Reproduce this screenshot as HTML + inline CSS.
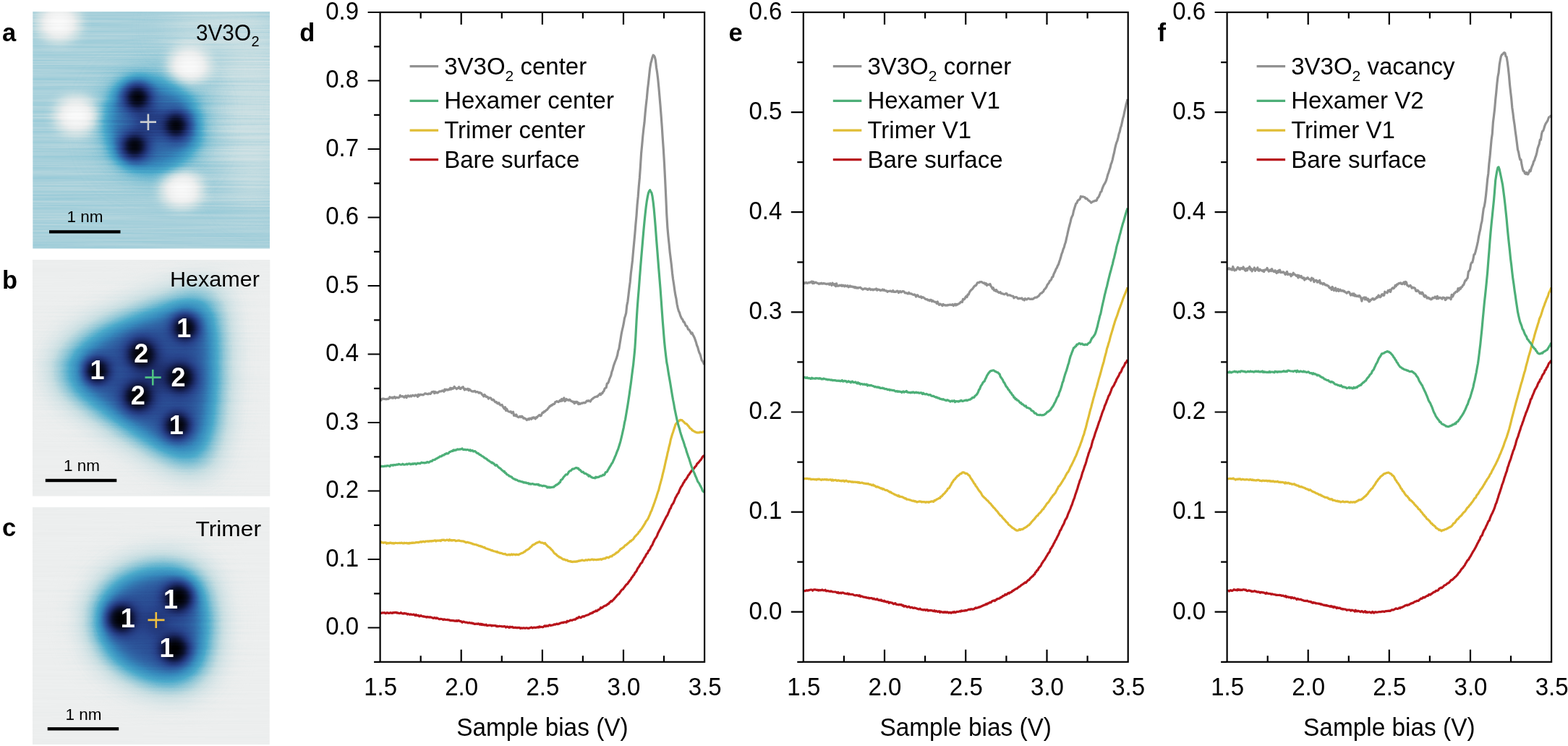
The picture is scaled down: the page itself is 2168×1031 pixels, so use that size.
<!DOCTYPE html><html><head><meta charset="utf-8"><style>html,body{margin:0;padding:0;background:#fff;}svg{display:block;}.tk{font-family:'Liberation Sans', Arial, sans-serif;font-size:33px;fill:#000;}.pl{font-family:'Liberation Sans', Arial, sans-serif;font-size:34.5px;font-weight:bold;fill:#000;}.it{font-family:'Liberation Sans', Arial, sans-serif;fill:#000;}.num{font-family:'Liberation Sans', Arial, sans-serif;font-weight:bold;fill:#fff;font-size:36px;}</style></head><body>
<svg width="2168" height="1031" viewBox="0 0 2168 1031">
<defs>
<clipPath id="clipa"><rect x="45.3" y="16.0" width="327.7" height="327.4"/></clipPath>
<filter id="cma" filterUnits="userSpaceOnUse" x="45.3" y="16.0" width="327.7" height="327.4" color-interpolation-filters="sRGB"><feTurbulence type="fractalNoise" baseFrequency="0.005 0.45" numOctaves="2" seed="3" result="n"/><feColorMatrix in="n" type="matrix" values="1 0 0 0 0 1 0 0 0 0 1 0 0 0 0 0 0 0 0 1" result="ng"/><feComposite in="SourceGraphic" in2="ng" operator="arithmetic" k1="0" k2="1" k3="0.090" k4="-0.045" result="s"/><feComponentTransfer in="s"><feFuncR type="table" tableValues="0.0000 0.0471 0.1098 0.1569 0.1882 0.2157 0.2941 0.5569 0.7843 0.9255 0.9804"/><feFuncG type="table" tableValues="0.0000 0.0706 0.1647 0.2667 0.3922 0.5490 0.6667 0.7765 0.8706 0.9333 0.9804"/><feFuncB type="table" tableValues="0.0000 0.1882 0.4000 0.5490 0.6471 0.7451 0.7961 0.8392 0.8863 0.9333 0.9804"/><feFuncA type="identity"/></feComponentTransfer></filter>
<clipPath id="clipb"><rect x="45.0" y="359.0" width="328.3" height="326.7"/></clipPath>
<filter id="cmb" filterUnits="userSpaceOnUse" x="45.0" y="359.0" width="328.3" height="326.7" color-interpolation-filters="sRGB"><feTurbulence type="fractalNoise" baseFrequency="0.005 0.45" numOctaves="2" seed="5" result="n"/><feColorMatrix in="n" type="matrix" values="1 0 0 0 0 1 0 0 0 0 1 0 0 0 0 0 0 0 0 1" result="ng"/><feComposite in="SourceGraphic" in2="ng" operator="arithmetic" k1="0" k2="1" k3="0.035" k4="-0.018" result="s"/><feComponentTransfer in="s"><feFuncR type="table" tableValues="0.0000 0.0471 0.1098 0.1569 0.1882 0.2157 0.2941 0.5569 0.7843 0.9255 0.9804"/><feFuncG type="table" tableValues="0.0000 0.0706 0.1647 0.2667 0.3922 0.5490 0.6667 0.7765 0.8706 0.9333 0.9804"/><feFuncB type="table" tableValues="0.0000 0.1882 0.4000 0.5490 0.6471 0.7451 0.7961 0.8392 0.8863 0.9333 0.9804"/><feFuncA type="identity"/></feComponentTransfer></filter>
<clipPath id="clipc"><rect x="45.0" y="701.0" width="327.8" height="328.0"/></clipPath>
<filter id="cmc" filterUnits="userSpaceOnUse" x="45.0" y="701.0" width="327.8" height="328.0" color-interpolation-filters="sRGB"><feTurbulence type="fractalNoise" baseFrequency="0.005 0.45" numOctaves="2" seed="9" result="n"/><feColorMatrix in="n" type="matrix" values="1 0 0 0 0 1 0 0 0 0 1 0 0 0 0 0 0 0 0 1" result="ng"/><feComposite in="SourceGraphic" in2="ng" operator="arithmetic" k1="0" k2="1" k3="0.035" k4="-0.018" result="s"/><feComponentTransfer in="s"><feFuncR type="table" tableValues="0.0000 0.0471 0.1098 0.1569 0.1882 0.2157 0.2941 0.5569 0.7843 0.9255 0.9804"/><feFuncG type="table" tableValues="0.0000 0.0706 0.1647 0.2667 0.3922 0.5490 0.6667 0.7765 0.8706 0.9333 0.9804"/><feFuncB type="table" tableValues="0.0000 0.1882 0.4000 0.5490 0.6471 0.7451 0.7961 0.8392 0.8863 0.9333 0.9804"/><feFuncA type="identity"/></feComponentTransfer></filter>
<filter id="bl3" filterUnits="userSpaceOnUse" x="0" y="0" width="400" height="1031" color-interpolation-filters="sRGB"><feGaussianBlur stdDeviation="3"/></filter>
<filter id="bl5" filterUnits="userSpaceOnUse" x="0" y="0" width="400" height="1031" color-interpolation-filters="sRGB"><feGaussianBlur stdDeviation="5"/></filter>
<filter id="bl6" filterUnits="userSpaceOnUse" x="0" y="0" width="400" height="1031" color-interpolation-filters="sRGB"><feGaussianBlur stdDeviation="6"/></filter>
<filter id="bl7" filterUnits="userSpaceOnUse" x="0" y="0" width="400" height="1031" color-interpolation-filters="sRGB"><feGaussianBlur stdDeviation="7"/></filter>
<filter id="bl8" filterUnits="userSpaceOnUse" x="0" y="0" width="400" height="1031" color-interpolation-filters="sRGB"><feGaussianBlur stdDeviation="8"/></filter>
<filter id="bl9" filterUnits="userSpaceOnUse" x="0" y="0" width="400" height="1031" color-interpolation-filters="sRGB"><feGaussianBlur stdDeviation="9"/></filter>
<filter id="bl10" filterUnits="userSpaceOnUse" x="0" y="0" width="400" height="1031" color-interpolation-filters="sRGB"><feGaussianBlur stdDeviation="10"/></filter>
<filter id="bl11" filterUnits="userSpaceOnUse" x="0" y="0" width="400" height="1031" color-interpolation-filters="sRGB"><feGaussianBlur stdDeviation="11"/></filter>
<filter id="bl12" filterUnits="userSpaceOnUse" x="0" y="0" width="400" height="1031" color-interpolation-filters="sRGB"><feGaussianBlur stdDeviation="12"/></filter>
<filter id="bl14" filterUnits="userSpaceOnUse" x="0" y="0" width="400" height="1031" color-interpolation-filters="sRGB"><feGaussianBlur stdDeviation="14"/></filter>
<filter id="bl16" filterUnits="userSpaceOnUse" x="0" y="0" width="400" height="1031" color-interpolation-filters="sRGB"><feGaussianBlur stdDeviation="16"/></filter>
<filter id="bl18" filterUnits="userSpaceOnUse" x="0" y="0" width="400" height="1031" color-interpolation-filters="sRGB"><feGaussianBlur stdDeviation="18"/></filter>
<filter id="bl22" filterUnits="userSpaceOnUse" x="0" y="0" width="400" height="1031" color-interpolation-filters="sRGB"><feGaussianBlur stdDeviation="22"/></filter>
</defs>
<g clip-path="url(#clipa)"><g filter="url(#cma)">
<rect x="25.3" y="-4.0" width="367.7" height="367.4" fill="rgb(190,190,190)"/>
<g filter="url(#bl22)" fill="rgb(204,204,204)"><ellipse cx="350" cy="150" rx="45" ry="140"/><ellipse cx="300" cy="40" rx="70" ry="30"/></g>
<g filter="url(#bl22)" fill="rgb(158,158,158)"><circle cx="212" cy="172" r="70"/></g>
<g filter="url(#bl10)" fill="rgb(255,255,255)">
<ellipse cx="81.5" cy="32.0" rx="26" ry="22"/>
<ellipse cx="261.5" cy="90.0" rx="26" ry="22"/>
<ellipse cx="105.3" cy="159.6" rx="26" ry="22"/>
<ellipse cx="251.3" cy="261.5" rx="26" ry="22"/>
</g>
<g filter="url(#bl12)" fill="rgb(107,107,107)">
<path d="M163.8,121.6 Q201.0,101.2 247.5,128.2 Q284.7,160.7 266.1,205.3 Q233.5,242.5 187.0,230.4 Q145.2,214.6 149.8,165.3 Q152.6,137.4 163.8,121.6 Z"/>
</g>
<g filter="url(#bl9)" fill="rgb(69,69,69)">
<circle cx="190.2" cy="135.3" r="23"/>
<circle cx="243.2" cy="173.3" r="23"/>
<circle cx="186.2" cy="201.8" r="23"/>
<circle cx="207.0" cy="170.0" r="23"/>
</g>
<g filter="url(#bl7)" fill="rgb(0,0,0)">
<circle cx="190.2" cy="135.3" r="14"/>
<circle cx="243.2" cy="173.3" r="14"/>
<circle cx="186.2" cy="201.8" r="14"/>
</g>
</g>
<path d="M193.8,168.6H216M204.9,157.6V180" stroke="#c9ccd0" stroke-width="2.6"/>
</g>
<text x="271" y="56" class="it" font-size="31px" textLength="76" lengthAdjust="spacingAndGlyphs">3V3O</text>
<text x="347.5" y="64.4" class="it" font-size="20px">2</text>
<text x="92.5" y="307.1" class="it" font-size="22.5px">1 nm</text>
<rect x="68" y="318.2" width="98.5" height="4.3" fill="#000"/>
<g clip-path="url(#clipb)"><g filter="url(#cmb)">
<rect x="25.0" y="339.0" width="368.3" height="366.7" fill="rgb(231,231,231)"/>
<g filter="url(#bl22)" fill="rgb(201,201,201)"><path d="M63.8,506.6 Q72.8,468.5 142.2,434.9 Q198.2,410.2 265.4,390.1 Q310.2,378.9 316.9,430.4 Q322.5,475.2 316.9,564.8 Q310.2,637.6 287.8,657.8 Q259.8,671.2 198.2,628.6 Q131.0,587.2 81.7,546.9 Q61.6,526.7 63.8,506.6 Z"/></g>
<g filter="url(#bl16)" fill="rgb(158,158,158)"><path d="M81.3,508.1 Q89.3,474.5 150.7,444.8 Q200.2,423.0 259.6,405.2 Q299.1,395.3 305.1,440.8 Q310.0,480.4 305.1,559.6 Q299.1,624.0 279.4,641.8 Q254.6,653.6 200.2,616.0 Q140.8,579.4 97.2,543.8 Q79.4,525.9 81.3,508.1 Z"/></g>
<g filter="url(#bl12)" fill="rgb(120,120,120)"><path d="M98.9,509.7 Q105.8,480.4 159.1,454.6 Q202.1,435.7 253.7,420.2 Q288.1,411.6 293.3,451.2 Q297.6,485.6 293.3,554.4 Q288.1,610.3 270.9,625.8 Q249.4,636.1 202.1,603.4 Q150.5,571.6 112.7,540.6 Q97.2,525.2 98.9,509.7 Z"/></g>
<g filter="url(#bl11)" fill="rgb(87,87,87)"><path d="M120.5,511.6 Q126.1,487.8 169.5,466.8 Q204.5,451.4 246.5,438.8 Q274.5,431.8 278.7,464.0 Q282.2,492.0 278.7,548.0 Q274.5,593.5 260.5,606.1 Q243.0,614.5 204.5,587.9 Q162.5,562.0 131.7,536.8 Q119.1,524.2 120.5,511.6 Z"/></g>
<g filter="url(#bl10)" fill="rgb(56,56,56)">
<circle cx="136.0" cy="511.0" r="16"/>
<circle cx="256.0" cy="453.0" r="18"/>
<circle cx="245.0" cy="588.0" r="18"/>
<circle cx="197.0" cy="489.0" r="24"/>
<circle cx="248.0" cy="522.0" r="24"/>
<circle cx="192.0" cy="547.0" r="24"/>
<circle cx="220.0" cy="518.0" r="20"/>
</g>
<g filter="url(#bl7)" fill="rgb(0,0,0)">
<circle cx="134.0" cy="513.0" r="15"/>
<circle cx="256.0" cy="453.0" r="15"/>
<circle cx="245.0" cy="588.0" r="15"/>
<circle cx="196.0" cy="490.0" r="17"/>
<circle cx="249.0" cy="522.0" r="17"/>
<circle cx="191.0" cy="548.0" r="17"/>
</g>
</g>
<path d="M200.5,521.6H222.7M211.3,510.8V532.4" stroke="#4fc283" stroke-width="2.6"/>
</g>
<text x="235" y="396.2" class="it" font-size="30px" textLength="124" lengthAdjust="spacingAndGlyphs">Hexamer</text>
<text x="134.4" y="523.6" class="num" text-anchor="middle">1</text>
<text x="254.2" y="466.1" class="num" text-anchor="middle">1</text>
<text x="243.7" y="599.7" class="num" text-anchor="middle">1</text>
<text x="195.2" y="500.9" class="num" text-anchor="middle">2</text>
<text x="246.6" y="533.7" class="num" text-anchor="middle">2</text>
<text x="190.8" y="559.4" class="num" text-anchor="middle">2</text>
<text x="88" y="651.3" class="it" font-size="22.5px">1 nm</text>
<rect x="62.8" y="661.8" width="98.5" height="4.4" fill="#000"/>
<g clip-path="url(#clipc)"><g filter="url(#cmc)">
<rect x="25.0" y="681.0" width="367.8" height="368.0" fill="rgb(231,231,231)"/>
<g filter="url(#bl22)" fill="rgb(201,201,201)"><path d="M114.0,859.7 Q116.2,789.0 198.3,768.5 Q280.4,751.4 300.9,814.1 Q314.6,871.1 297.5,924.7 Q273.6,976.0 209.7,958.9 Q121.9,930.4 114.0,859.7 Z"/></g>
<g filter="url(#bl16)" fill="rgb(158,158,158)"><path d="M126.0,860.0 Q128.0,798.0 200.0,780.0 Q272.0,765.0 290.0,820.0 Q302.0,870.0 287.0,917.0 Q266.0,962.0 210.0,947.0 Q133.0,922.0 126.0,860.0 Z"/></g>
<g filter="url(#bl12)" fill="rgb(120,120,120)"><path d="M138.0,860.3 Q139.8,807.0 201.7,791.5 Q263.6,778.6 279.1,825.9 Q289.4,868.9 276.5,909.3 Q258.4,948.0 210.3,935.1 Q144.1,913.6 138.0,860.3 Z"/></g>
<g filter="url(#bl11)" fill="rgb(87,87,87)"><path d="M153.5,860.6 Q154.9,818.5 203.8,806.2 Q252.8,796.0 265.0,833.4 Q273.2,867.4 263.0,899.4 Q248.7,930.0 210.6,919.8 Q158.3,902.8 153.5,860.6 Z"/></g>
<g filter="url(#bl10)" fill="rgb(56,56,56)">
<circle cx="170.0" cy="855.0" r="22"/>
<circle cx="245.0" cy="826.0" r="22"/>
<circle cx="240.0" cy="896.0" r="22"/>
<circle cx="215.0" cy="860.0" r="16"/>
</g>
<g filter="url(#bl7)" fill="rgb(0,0,0)">
<circle cx="168.0" cy="855.0" r="17"/>
<circle cx="246.0" cy="826.0" r="17"/>
<circle cx="241.0" cy="897.0" r="17"/>
</g>
</g>
<path d="M204.5,856.9H227.5M215.8,846V868" stroke="#f0c040" stroke-width="2.6"/>
</g>
<text x="270.5" y="740.6" class="it" font-size="30px" textLength="90.5" lengthAdjust="spacingAndGlyphs">Trimer</text>
<text x="176.7" y="867.3" class="num" text-anchor="middle">1</text>
<text x="235.9" y="841.4" class="num" text-anchor="middle">1</text>
<text x="230.4" y="907.8" class="num" text-anchor="middle">1</text>
<text x="90.5" y="994.9" class="it" font-size="22.5px">1 nm</text>
<rect x="65.7" y="1005.1" width="98.5" height="4.4" fill="#000"/>
<text x="3" y="57" class="pl">a</text>
<text x="3" y="399" class="pl">b</text>
<text x="3" y="740.6" class="pl">c</text>
<path d="M525.8,847.3 526.9,847.4 528.0,847.1 529.1,846.8 530.2,847.0 531.3,846.7 532.4,847.2 533.5,847.7 534.6,846.9 535.7,846.8 536.8,847.3 537.9,847.3 539.0,847.2 540.1,846.7 541.2,847.1 542.3,847.4 543.4,846.5 544.5,846.9 545.6,846.3 546.7,846.6 547.8,846.4 548.9,847.2 550.0,846.8 551.1,847.5 552.2,847.6 553.3,847.5 554.4,846.6 555.5,847.6 556.6,847.9 557.7,848.1 558.8,847.4 559.9,848.0 561.0,847.9 562.1,848.1 563.2,849.1 564.3,848.4 565.4,848.9 566.5,849.4 567.6,848.8 568.7,849.2 569.8,849.4 570.9,849.5 572.0,849.1 573.1,849.9 574.2,850.6 575.3,849.5 576.4,850.7 577.5,850.6 578.6,850.4 579.7,851.8 580.8,851.4 581.9,850.7 583.0,851.4 584.1,851.9 585.2,851.7 586.3,852.3 587.4,852.1 588.5,852.6 589.6,853.1 590.7,852.3 591.8,852.9 592.9,852.8 594.0,853.2 595.1,852.8 596.2,853.2 597.3,853.6 598.4,854.2 599.5,854.5 600.6,853.6 601.7,854.0 602.8,854.8 603.9,853.8 605.0,854.6 606.1,855.0 607.2,855.7 608.3,855.6 609.4,855.3 610.5,855.5 611.6,855.7 612.7,856.6 613.8,855.9 614.9,856.1 616.0,856.5 617.1,856.5 618.2,856.6 619.3,856.3 620.4,856.9 621.5,856.8 622.6,857.7 623.7,857.6 624.8,857.4 625.9,857.8 627.0,857.5 628.1,858.2 629.2,857.9 630.3,858.3 631.4,857.6 632.5,858.4 633.6,857.7 634.7,857.7 635.8,858.6 636.9,858.5 638.0,859.1 639.1,860.2 640.2,859.0 641.3,859.3 642.4,859.8 643.5,860.1 644.6,860.0 645.7,860.2 646.8,860.8 647.9,860.9 649.0,860.4 650.1,861.0 651.2,861.2 652.3,860.9 653.4,861.7 654.5,861.4 655.6,862.4 656.7,862.2 657.8,862.3 658.9,862.1 660.0,862.5 661.1,861.8 662.2,862.3 663.3,863.1 664.4,862.1 665.5,863.5 666.6,862.5 667.7,863.7 668.8,863.1 669.9,863.9 671.0,863.8 672.1,863.1 673.2,864.5 674.3,864.7 675.4,864.1 676.5,864.1 677.6,864.2 678.7,864.0 679.8,865.0 680.9,864.4 682.0,864.7 683.1,864.5 684.2,864.6 685.3,864.5 686.4,865.7 687.5,865.2 688.6,865.8 689.7,865.5 690.8,865.2 691.9,865.5 693.0,865.5 694.1,865.9 695.2,865.8 696.3,865.9 697.4,865.5 698.5,865.9 699.6,867.1 700.7,866.2 701.8,866.1 702.9,866.8 704.0,867.4 705.1,866.2 706.2,866.8 707.3,866.7 708.4,866.3 709.5,867.5 710.6,867.3 711.7,867.4 712.8,867.1 713.9,867.7 715.0,867.4 716.1,867.7 717.2,867.3 718.3,867.3 719.4,868.5 720.5,867.8 721.6,868.2 722.7,868.1 723.8,867.9 724.9,867.9 726.0,868.4 727.1,867.9 728.2,867.9 729.3,868.0 730.4,868.4 731.5,868.1 732.6,867.9 733.7,867.4 734.8,866.9 735.9,867.8 737.0,867.7 738.1,867.1 739.2,867.3 740.3,867.3 741.4,867.2 742.5,867.2 743.6,866.5 744.7,867.2 745.8,865.9 746.9,866.7 748.0,866.4 749.1,866.5 750.2,866.8 751.3,866.5 752.4,865.2 753.5,864.8 754.6,865.8 755.7,864.8 756.8,865.1 757.9,865.3 759.0,864.0 760.1,863.7 761.2,864.6 762.3,864.3 763.4,864.0 764.5,863.9 765.6,863.3 766.7,862.8 767.8,863.2 768.9,862.6 770.0,862.0 771.1,862.7 772.2,862.2 773.3,862.1 774.4,861.2 775.5,861.1 776.6,860.6 777.7,860.4 778.8,860.6 779.9,859.8 781.0,860.0 782.1,859.7 783.2,860.2 784.3,858.3 785.4,859.0 786.5,858.3 787.6,858.0 788.7,857.1 789.8,857.2 790.9,857.4 792.0,856.7 793.1,856.5 794.2,856.0 795.3,856.3 796.4,855.4 797.5,854.1 798.6,854.4 799.7,853.5 800.8,852.5 801.9,853.4 803.0,853.9 804.1,852.9 805.2,852.0 806.3,851.7 807.4,852.2 808.5,851.4 809.6,850.9 810.7,850.4 811.8,850.0 812.9,849.9 814.0,849.3 815.1,848.7 816.2,847.7 817.3,847.9 818.4,846.8 819.5,847.1 820.6,845.5 821.7,845.5 822.8,845.0 823.9,843.8 825.0,844.6 826.1,843.9 827.2,842.5 828.3,842.5 829.4,841.7 830.5,839.7 831.6,840.4 832.7,839.6 833.8,839.0 834.9,837.8 836.0,837.5 837.1,836.9 838.2,836.8 839.3,835.7 840.4,834.7 841.5,834.6 842.6,832.9 843.7,832.1 844.8,830.6 845.9,831.2 847.0,829.9 848.1,828.9 849.2,827.7 850.3,826.3 851.4,825.2 852.5,823.8 853.6,822.5 854.7,821.4 855.8,820.8 856.9,819.1 858.0,817.5 859.1,816.0 860.2,814.7 861.3,814.5 862.4,812.7 863.5,811.3 864.6,809.8 865.7,808.2 866.8,807.4 867.9,806.5 869.0,804.6 870.1,803.3 871.2,801.8 872.3,800.5 873.4,798.2 874.5,797.3 875.6,795.3 876.7,794.4 877.8,791.9 878.9,790.7 880.0,789.3 881.1,786.7 882.2,784.8 883.3,783.4 884.4,781.6 885.5,779.4 886.6,778.3 887.7,777.3 888.8,774.5 889.9,772.8 891.0,770.7 892.1,769.5 893.2,767.0 894.3,765.2 895.4,764.4 896.5,761.5 897.6,760.5 898.7,758.8 899.8,756.2 900.9,754.4 902.0,753.0 903.1,750.0 904.2,747.8 905.3,745.4 906.4,743.9 907.5,742.4 908.6,740.1 909.7,737.0 910.8,734.9 911.9,732.8 913.0,730.9 914.1,728.5 915.2,726.4 916.3,724.3 917.4,721.8 918.5,719.7 919.6,717.6 920.7,715.3 921.8,713.4 922.9,711.8 924.0,709.0 925.1,706.6 926.2,703.6 927.3,702.4 928.4,699.1 929.5,697.2 930.6,696.0 931.7,693.7 932.8,691.0 933.9,688.0 935.0,686.4 936.1,684.0 937.2,682.3 938.3,680.9 939.4,677.8 940.5,675.3 941.6,673.1 942.7,671.7 943.8,669.7 944.9,667.4 946.0,666.1 947.1,663.7 948.2,663.0 949.3,661.2 950.4,659.6 951.5,657.2 952.6,656.1 953.7,654.3 954.8,652.7 955.9,651.3 957.0,649.5 958.1,648.2 959.2,647.8 960.3,646.1 961.4,644.9 962.5,643.9 963.6,641.3 964.7,640.3 965.8,639.3 966.9,638.0 968.0,636.3 969.1,635.5 970.2,633.7 971.3,631.6 972.4,630.3 973.5,629.7" fill="none" stroke="#b8141b" stroke-width="3.2" stroke-linejoin="round" stroke-linecap="butt"/>
<path d="M525.8,749.5 526.9,748.8 528.0,750.0 529.1,749.9 530.2,750.3 531.3,749.8 532.4,749.9 533.5,749.8 534.6,751.2 535.7,750.3 536.8,751.0 537.9,750.3 539.0,750.6 540.1,750.0 541.2,750.5 542.3,751.0 543.4,750.3 544.5,751.1 545.6,750.8 546.7,750.3 547.8,750.5 548.9,750.5 550.0,750.7 551.1,750.5 552.2,750.4 553.3,750.6 554.4,750.3 555.5,750.2 556.6,750.7 557.7,751.0 558.8,750.2 559.9,750.7 561.0,750.5 562.1,750.4 563.2,751.0 564.3,750.5 565.4,751.2 566.5,750.3 567.6,750.7 568.7,750.4 569.8,750.1 570.9,750.5 572.0,750.1 573.1,750.3 574.2,750.0 575.3,749.5 576.4,749.7 577.5,749.6 578.6,749.8 579.7,749.1 580.8,749.2 581.9,748.5 583.0,749.3 584.1,748.5 585.2,748.2 586.3,748.7 587.4,749.0 588.5,748.0 589.6,748.0 590.7,748.1 591.8,747.9 592.9,748.3 594.0,747.8 595.1,747.7 596.2,748.1 597.3,747.5 598.4,747.8 599.5,747.3 600.6,747.1 601.7,746.8 602.8,748.0 603.9,747.1 605.0,747.2 606.1,747.1 607.2,747.1 608.3,746.9 609.4,747.5 610.5,746.4 611.6,746.2 612.7,746.3 613.8,746.2 614.9,746.9 616.0,746.9 617.1,746.3 618.2,746.1 619.3,746.5 620.4,747.1 621.5,745.7 622.6,746.9 623.7,746.4 624.8,747.2 625.9,746.5 627.0,746.8 628.1,746.5 629.2,746.7 630.3,747.7 631.4,747.5 632.5,747.2 633.6,747.1 634.7,746.9 635.8,747.5 636.9,747.7 638.0,747.8 639.1,748.0 640.2,747.8 641.3,748.4 642.4,748.6 643.5,749.3 644.6,749.8 645.7,749.3 646.8,749.4 647.9,750.0 649.0,750.1 650.1,750.3 651.2,750.9 652.3,750.9 653.4,751.8 654.5,751.9 655.6,752.4 656.7,752.5 657.8,752.7 658.9,752.9 660.0,753.5 661.1,753.7 662.2,754.4 663.3,754.7 664.4,754.6 665.5,755.5 666.6,755.4 667.7,756.1 668.8,756.6 669.9,756.4 671.0,757.6 672.1,758.0 673.2,758.3 674.3,758.7 675.4,759.1 676.5,759.3 677.6,759.9 678.7,760.2 679.8,760.8 680.9,760.7 682.0,761.5 683.1,761.8 684.2,762.0 685.3,762.2 686.4,762.9 687.5,762.4 688.6,763.5 689.7,763.8 690.8,764.1 691.9,764.4 693.0,764.4 694.1,764.8 695.2,765.4 696.3,765.6 697.4,765.8 698.5,765.4 699.6,766.4 700.7,766.8 701.8,766.9 702.9,766.7 704.0,766.2 705.1,767.1 706.2,766.7 707.3,765.9 708.4,766.9 709.5,766.2 710.6,766.2 711.7,766.4 712.8,766.9 713.9,766.2 715.0,766.4 716.1,766.7 717.2,766.6 718.3,765.8 719.4,765.5 720.5,764.7 721.6,764.4 722.7,764.2 723.8,763.5 724.9,762.6 726.0,762.2 727.1,760.8 728.2,760.2 729.3,759.8 730.4,759.0 731.5,758.3 732.6,757.2 733.7,756.0 734.8,755.3 735.9,753.9 737.0,752.8 738.1,752.8 739.2,751.9 740.3,751.5 741.4,750.3 742.5,750.2 743.6,749.7 744.7,749.3 745.8,748.7 746.9,749.4 748.0,750.0 749.1,750.1 750.2,750.1 751.3,750.6 752.4,751.3 753.5,750.5 754.6,752.1 755.7,753.2 756.8,754.2 757.9,755.5 759.0,756.2 760.1,757.0 761.2,758.1 762.3,759.5 763.4,760.3 764.5,761.7 765.6,763.3 766.7,764.9 767.8,765.3 768.9,766.3 770.0,767.3 771.1,768.5 772.2,768.8 773.3,770.1 774.4,770.0 775.5,770.9 776.6,771.6 777.7,772.5 778.8,773.2 779.9,772.8 781.0,773.4 782.1,774.2 783.2,774.2 784.3,774.2 785.4,775.4 786.5,775.5 787.6,775.8 788.7,775.7 789.8,776.4 790.9,776.1 792.0,776.7 793.1,776.1 794.2,776.1 795.3,776.4 796.4,775.9 797.5,776.2 798.6,775.8 799.7,775.2 800.8,775.3 801.9,774.8 803.0,775.0 804.1,774.2 805.2,774.1 806.3,774.5 807.4,774.8 808.5,774.6 809.6,773.9 810.7,773.9 811.8,774.3 812.9,773.7 814.0,773.4 815.1,773.8 816.2,773.9 817.3,773.4 818.4,773.1 819.5,773.1 820.6,773.8 821.7,773.3 822.8,773.5 823.9,773.6 825.0,773.7 826.1,773.3 827.2,773.5 828.3,773.0 829.4,773.1 830.5,772.7 831.6,773.3 832.7,772.7 833.8,772.2 834.9,772.1 836.0,771.8 837.1,771.8 838.2,770.6 839.3,770.4 840.4,770.3 841.5,770.9 842.6,769.9 843.7,769.1 844.8,768.9 845.9,768.9 847.0,767.5 848.1,766.8 849.2,766.6 850.3,765.6 851.4,764.9 852.5,763.6 853.6,763.6 854.7,762.6 855.8,761.3 856.9,760.5 858.0,758.6 859.1,758.6 860.2,757.5 861.3,756.8 862.4,756.1 863.5,754.8 864.6,753.5 865.7,753.3 866.8,752.1 867.9,751.3 869.0,750.3 870.1,749.5 871.2,747.8 872.3,748.1 873.4,746.7 874.5,746.0 875.6,745.2 876.7,743.4 877.8,741.6 878.9,740.8 880.0,739.4 881.1,738.4 882.2,737.3 883.3,735.2 884.4,734.6 885.5,732.4 886.6,731.5 887.7,729.8 888.8,728.1 889.9,726.5 891.0,724.6 892.1,722.8 893.2,720.5 894.3,719.2 895.4,717.8 896.5,715.7 897.6,713.2 898.7,710.6 899.8,707.6 900.9,705.7 902.0,702.4 903.1,699.6 904.2,696.5 905.3,693.6 906.4,690.3 907.5,687.2 908.6,683.4 909.7,680.0 910.8,677.2 911.9,672.4 913.0,668.3 914.1,664.4 915.2,660.3 916.3,655.3 917.4,651.1 918.5,646.7 919.6,641.5 920.7,636.5 921.8,632.2 922.9,626.7 924.0,622.4 925.1,617.4 926.2,613.5 927.3,607.8 928.4,604.0 929.5,600.3 930.6,597.2 931.7,593.6 932.8,590.6 933.9,586.7 935.0,585.4 936.1,583.8 937.2,582.7 938.3,582.3 939.4,581.1 940.5,580.3 941.6,580.8 942.7,580.6 943.8,581.5 944.9,582.7 946.0,583.6 947.1,585.0 948.2,585.4 949.3,585.8 950.4,587.2 951.5,588.4 952.6,589.6 953.7,591.4 954.8,592.3 955.9,592.9 957.0,594.7 958.1,595.1 959.2,595.9 960.3,596.4 961.4,597.1 962.5,597.3 963.6,598.0 964.7,597.8 965.8,597.8 966.9,597.8 968.0,597.1 969.1,597.5 970.2,597.4 971.3,597.4 972.4,596.6 973.5,597.3" fill="none" stroke="#e0bd35" stroke-width="3.2" stroke-linejoin="round" stroke-linecap="butt"/>
<path d="M525.8,645.3 526.9,644.6 528.0,644.2 529.1,644.7 530.2,644.6 531.3,644.1 532.4,644.4 533.5,643.9 534.6,644.3 535.7,643.5 536.8,643.7 537.9,644.0 539.0,644.6 540.1,642.9 541.2,643.0 542.3,642.7 543.4,643.3 544.5,642.4 545.6,642.6 546.7,642.7 547.8,642.2 548.9,642.1 550.0,642.2 551.1,641.4 552.2,641.6 553.3,642.0 554.4,642.2 555.5,642.0 556.6,641.2 557.7,641.7 558.8,642.2 559.9,642.0 561.0,641.7 562.1,641.2 563.2,641.9 564.3,641.2 565.4,640.9 566.5,640.9 567.6,641.9 568.7,641.2 569.8,641.6 570.9,640.7 572.0,641.3 573.1,640.5 574.2,640.6 575.3,641.7 576.4,640.9 577.5,640.2 578.6,640.3 579.7,640.4 580.8,640.7 581.9,639.8 583.0,639.1 584.1,639.7 585.2,639.7 586.3,639.6 587.4,640.0 588.5,639.3 589.6,639.4 590.7,638.3 591.8,639.0 592.9,639.2 594.0,638.3 595.1,637.7 596.2,637.2 597.3,637.5 598.4,635.8 599.5,635.7 600.6,635.5 601.7,635.0 602.8,634.0 603.9,633.7 605.0,632.9 606.1,632.5 607.2,631.8 608.3,630.8 609.4,630.8 610.5,630.6 611.6,629.3 612.7,629.1 613.8,629.0 614.9,627.7 616.0,627.7 617.1,626.5 618.2,626.9 619.3,626.9 620.4,626.2 621.5,624.6 622.6,624.5 623.7,623.7 624.8,623.3 625.9,623.5 627.0,621.9 628.1,622.7 629.2,621.9 630.3,622.3 631.4,621.5 632.5,620.9 633.6,621.1 634.7,621.2 635.8,620.8 636.9,621.0 638.0,620.6 639.1,619.9 640.2,621.4 641.3,621.4 642.4,621.2 643.5,621.3 644.6,621.9 645.7,621.4 646.8,621.5 647.9,621.9 649.0,622.7 650.1,621.8 651.2,623.2 652.3,622.6 653.4,622.6 654.5,623.9 655.6,623.7 656.7,623.6 657.8,624.5 658.9,625.7 660.0,626.4 661.1,626.4 662.2,627.5 663.3,628.4 664.4,628.5 665.5,629.8 666.6,630.4 667.7,630.9 668.8,631.7 669.9,632.7 671.0,633.4 672.1,633.8 673.2,634.6 674.3,635.9 675.4,636.2 676.5,637.2 677.6,638.0 678.7,638.4 679.8,639.9 680.9,639.2 682.0,640.6 683.1,640.9 684.2,642.6 685.3,643.3 686.4,642.4 687.5,643.6 688.6,645.1 689.7,646.1 690.8,646.9 691.9,647.5 693.0,648.7 694.1,649.8 695.2,650.4 696.3,651.9 697.4,651.5 698.5,653.7 699.6,653.9 700.7,655.7 701.8,656.1 702.9,656.6 704.0,658.0 705.1,658.1 706.2,658.8 707.3,659.1 708.4,660.4 709.5,661.2 710.6,662.0 711.7,662.0 712.8,663.1 713.9,663.1 715.0,663.5 716.1,664.3 717.2,664.9 718.3,664.7 719.4,665.2 720.5,665.6 721.6,666.0 722.7,665.8 723.8,667.0 724.9,666.6 726.0,667.2 727.1,666.9 728.2,667.6 729.3,667.8 730.4,667.7 731.5,668.9 732.6,668.4 733.7,669.2 734.8,669.0 735.9,668.5 737.0,668.8 738.1,669.3 739.2,669.4 740.3,669.6 741.4,669.6 742.5,669.2 743.6,670.1 744.7,669.5 745.8,670.9 746.9,670.7 748.0,670.9 749.1,671.4 750.2,671.8 751.3,671.3 752.4,671.4 753.5,671.9 754.6,671.8 755.7,672.5 756.8,673.9 757.9,672.9 759.0,673.9 760.1,673.1 761.2,673.8 762.3,673.4 763.4,673.3 764.5,673.2 765.6,673.2 766.7,671.9 767.8,671.3 768.9,670.1 770.0,670.1 771.1,669.0 772.2,668.6 773.3,667.0 774.4,666.6 775.5,663.5 776.6,662.9 777.7,662.0 778.8,660.1 779.9,658.6 781.0,657.6 782.1,656.1 783.2,655.8 784.3,655.8 785.4,654.2 786.5,652.1 787.6,651.2 788.7,650.5 789.8,650.2 790.9,648.6 792.0,648.0 793.1,648.1 794.2,647.7 795.3,647.0 796.4,646.6 797.5,646.6 798.6,647.4 799.7,647.2 800.8,649.2 801.9,649.3 803.0,650.6 804.1,652.0 805.2,652.5 806.3,652.2 807.4,653.7 808.5,654.5 809.6,654.3 810.7,654.9 811.8,656.0 812.9,656.1 814.0,658.2 815.1,657.1 816.2,658.3 817.3,659.2 818.4,659.7 819.5,660.2 820.6,660.5 821.7,660.3 822.8,660.9 823.9,659.2 825.0,660.0 826.1,659.4 827.2,659.4 828.3,659.1 829.4,658.2 830.5,657.8 831.6,658.0 832.7,657.2 833.8,656.2 834.9,656.7 836.0,655.8 837.1,653.0 838.2,652.5 839.3,652.1 840.4,649.8 841.5,648.0 842.6,646.1 843.7,644.3 844.8,642.6 845.9,640.6 847.0,639.2 848.1,636.5 849.2,634.1 850.3,631.3 851.4,629.1 852.5,625.9 853.6,623.2 854.7,620.6 855.8,617.0 856.9,613.6 858.0,609.6 859.1,605.2 860.2,600.5 861.3,595.4 862.4,590.6 863.5,584.2 864.6,579.6 865.7,573.1 866.8,566.5 867.9,559.9 869.0,552.7 870.1,545.6 871.2,537.4 872.3,530.1 873.4,521.1 874.5,512.3 875.6,504.3 876.7,493.7 877.8,482.5 878.9,465.1 880.0,444.7 881.1,427.0 882.2,412.4 883.3,399.4 884.4,384.7 885.5,370.4 886.6,356.9 887.7,344.1 888.8,331.0 889.9,318.3 891.0,306.6 892.1,295.9 893.2,286.1 894.3,278.1 895.4,271.9 896.5,266.9 897.6,264.1 898.7,262.6 899.8,264.9 900.9,266.4 902.0,271.1 903.1,279.0 904.2,288.8 905.3,301.3 906.4,314.9 907.5,329.8 908.6,343.7 909.7,357.5 910.8,371.5 911.9,384.9 913.0,398.3 914.1,413.5 915.2,429.2 916.3,444.4 917.4,457.9 918.5,471.5 919.6,482.4 920.7,491.8 921.8,500.9 922.9,506.3 924.0,513.7 925.1,520.3 926.2,526.4 927.3,532.9 928.4,539.8 929.5,546.4 930.6,552.8 931.7,558.2 932.8,564.9 933.9,570.1 935.0,575.4 936.1,580.4 937.2,584.9 938.3,589.1 939.4,592.3 940.5,596.6 941.6,600.3 942.7,603.7 943.8,607.2 944.9,610.0 946.0,613.4 947.1,617.4 948.2,619.9 949.3,624.1 950.4,627.2 951.5,630.6 952.6,633.4 953.7,637.0 954.8,640.6 955.9,644.0 957.0,647.0 958.1,649.4 959.2,652.1 960.3,654.4 961.4,657.5 962.5,659.7 963.6,662.5 964.7,665.4 965.8,666.9 966.9,668.4 968.0,670.9 969.1,672.7 970.2,674.8 971.3,677.9 972.4,679.3 973.5,680.3" fill="none" stroke="#4daf78" stroke-width="3.2" stroke-linejoin="round" stroke-linecap="butt"/>
<path d="M525.8,552.8 526.9,553.1 528.0,551.5 529.1,551.0 530.2,551.1 531.3,551.4 532.4,551.5 533.5,551.8 534.6,551.6 535.7,551.4 536.8,551.4 537.9,550.7 539.0,548.6 540.1,549.7 541.2,549.9 542.3,549.2 543.4,550.2 544.5,549.0 545.6,548.4 546.7,550.3 547.8,549.5 548.9,549.1 550.0,549.6 551.1,549.6 552.2,548.9 553.3,546.5 554.4,547.9 555.5,548.0 556.6,547.5 557.7,548.4 558.8,549.2 559.9,547.7 561.0,547.0 562.1,549.6 563.2,547.4 564.3,546.7 565.4,547.8 566.5,547.9 567.6,546.8 568.7,547.9 569.8,546.7 570.9,546.2 572.0,547.0 573.1,547.3 574.2,546.0 575.3,546.6 576.4,546.1 577.5,548.4 578.6,545.2 579.7,546.8 580.8,545.4 581.9,545.2 583.0,545.7 584.1,545.7 585.2,545.8 586.3,544.9 587.4,543.9 588.5,543.8 589.6,544.5 590.7,544.3 591.8,544.9 592.9,543.9 594.0,544.2 595.1,544.4 596.2,543.1 597.3,541.5 598.4,541.6 599.5,541.2 600.6,543.6 601.7,541.4 602.8,542.9 603.9,542.2 605.0,543.0 606.1,542.2 607.2,541.0 608.3,540.8 609.4,540.8 610.5,540.7 611.6,539.8 612.7,540.1 613.8,541.2 614.9,538.1 616.0,539.5 617.1,538.2 618.2,538.8 619.3,539.1 620.4,538.0 621.5,538.4 622.6,536.1 623.7,538.1 624.8,536.4 625.9,537.3 627.0,536.8 628.1,534.3 629.2,535.8 630.3,536.5 631.4,537.5 632.5,536.4 633.6,536.3 634.7,534.8 635.8,537.2 636.9,537.5 638.0,535.9 639.1,535.7 640.2,534.6 641.3,537.0 642.4,538.8 643.5,537.4 644.6,538.3 645.7,538.1 646.8,537.2 647.9,539.7 649.0,537.9 650.1,539.2 651.2,539.9 652.3,540.8 653.4,540.8 654.5,541.1 655.6,540.5 656.7,540.4 657.8,542.0 658.9,541.7 660.0,541.6 661.1,542.0 662.2,543.1 663.3,542.4 664.4,543.2 665.5,543.4 666.6,545.4 667.7,546.1 668.8,547.9 669.9,545.4 671.0,546.7 672.1,548.5 673.2,548.1 674.3,548.6 675.4,551.0 676.5,549.8 677.6,549.8 678.7,550.3 679.8,552.3 680.9,552.9 682.0,552.2 683.1,553.2 684.2,555.1 685.3,555.9 686.4,555.5 687.5,557.3 688.6,557.9 689.7,556.6 690.8,558.6 691.9,560.0 693.0,560.0 694.1,559.4 695.2,561.8 696.3,563.5 697.4,565.0 698.5,562.6 699.6,567.5 700.7,565.1 701.8,567.6 702.9,568.6 704.0,569.1 705.1,569.1 706.2,568.6 707.3,570.8 708.4,570.2 709.5,569.3 710.6,574.5 711.7,573.3 712.8,574.8 713.9,573.0 715.0,575.6 716.1,576.2 717.2,576.7 718.3,575.8 719.4,575.3 720.5,576.6 721.6,575.3 722.7,576.2 723.8,578.2 724.9,577.7 726.0,578.6 727.1,578.8 728.2,580.5 729.3,580.0 730.4,578.8 731.5,579.8 732.6,578.0 733.7,578.2 734.8,579.2 735.9,577.2 737.0,577.9 738.1,576.8 739.2,577.8 740.3,578.9 741.4,576.6 742.5,577.0 743.6,575.4 744.7,574.4 745.8,573.5 746.9,574.8 748.0,574.6 749.1,572.1 750.2,570.1 751.3,570.4 752.4,568.7 753.5,568.8 754.6,567.5 755.7,566.6 756.8,566.0 757.9,564.1 759.0,563.3 760.1,561.3 761.2,561.5 762.3,559.8 763.4,560.1 764.5,558.6 765.6,558.6 766.7,558.0 767.8,555.6 768.9,555.3 770.0,554.5 771.1,555.3 772.2,555.6 773.3,554.5 774.4,553.1 775.5,554.3 776.6,551.5 777.7,553.8 778.8,551.8 779.9,549.9 781.0,554.5 782.1,553.6 783.2,551.5 784.3,552.8 785.4,552.7 786.5,553.3 787.6,552.2 788.7,553.2 789.8,554.5 790.9,554.6 792.0,555.7 793.1,555.2 794.2,557.5 795.3,555.3 796.4,556.6 797.5,555.2 798.6,556.1 799.7,558.7 800.8,557.0 801.9,558.4 803.0,557.9 804.1,557.0 805.2,557.3 806.3,556.8 807.4,556.4 808.5,556.9 809.6,556.3 810.7,554.7 811.8,553.9 812.9,554.4 814.0,553.6 815.1,554.1 816.2,555.0 817.3,553.0 818.4,551.7 819.5,551.1 820.6,549.9 821.7,549.3 822.8,548.6 823.9,548.5 825.0,547.8 826.1,548.1 827.2,546.4 828.3,545.8 829.4,544.1 830.5,545.7 831.6,543.7 832.7,543.7 833.8,541.5 834.9,540.6 836.0,537.3 837.1,536.2 838.2,535.8 839.3,530.1 840.4,529.8 841.5,527.7 842.6,524.1 843.7,521.5 844.8,518.8 845.9,513.8 847.0,511.2 848.1,506.6 849.2,503.3 850.3,500.2 851.4,497.5 852.5,494.6 853.6,491.1 854.7,485.0 855.8,482.4 856.9,475.6 858.0,469.0 859.1,461.9 860.2,456.5 861.3,451.9 862.4,446.7 863.5,439.8 864.6,436.5 865.7,432.5 866.8,421.8 867.9,416.8 869.0,407.8 870.1,398.2 871.2,390.0 872.3,378.0 873.4,369.1 874.5,359.7 875.6,347.2 876.7,335.5 877.8,323.7 878.9,310.1 880.0,298.3 881.1,282.9 882.2,271.9 883.3,257.4 884.4,245.4 885.5,229.5 886.6,212.0 887.7,200.7 888.8,188.1 889.9,177.9 891.0,169.3 892.1,156.4 893.2,145.3 894.3,136.0 895.4,123.7 896.5,114.7 897.6,104.3 898.7,94.2 899.8,87.4 900.9,83.5 902.0,79.2 903.1,76.2 904.2,76.8 905.3,78.7 906.4,83.4 907.5,93.2 908.6,100.1 909.7,108.8 910.8,120.1 911.9,132.7 913.0,145.5 914.1,159.5 915.2,174.7 916.3,191.6 917.4,207.3 918.5,226.0 919.6,247.6 920.7,270.8 921.8,296.4 922.9,314.6 924.0,326.9 925.1,337.1 926.2,348.6 927.3,357.2 928.4,366.4 929.5,377.2 930.6,386.0 931.7,393.0 932.8,401.0 933.9,407.9 935.0,412.9 936.1,420.5 937.2,425.6 938.3,429.7 939.4,431.8 940.5,435.6 941.6,438.3 942.7,440.6 943.8,441.5 944.9,444.8 946.0,444.9 947.1,447.4 948.2,450.3 949.3,450.3 950.4,452.2 951.5,455.2 952.6,455.5 953.7,457.1 954.8,459.0 955.9,461.2 957.0,460.0 958.1,462.9 959.2,464.7 960.3,467.0 961.4,470.1 962.5,473.3 963.6,477.5 964.7,479.8 965.8,484.0 966.9,487.5 968.0,489.6 969.1,493.3 970.2,497.5 971.3,499.1 972.4,500.9 973.5,503.9" fill="none" stroke="#919191" stroke-width="3.2" stroke-linejoin="round" stroke-linecap="butt"/>
<rect x="525.6" y="17.0" width="448.5" height="897.8" fill="none" stroke="#000" stroke-width="2.2"/>
<text transform="translate(496.1,26.8) scale(1,1.05)" text-anchor="end" class="tk">0.9</text>
<text transform="translate(496.1,121.3) scale(1,1.05)" text-anchor="end" class="tk">0.8</text>
<text transform="translate(496.1,215.8) scale(1,1.05)" text-anchor="end" class="tk">0.7</text>
<text transform="translate(496.1,310.3) scale(1,1.05)" text-anchor="end" class="tk">0.6</text>
<text transform="translate(496.1,404.8) scale(1,1.05)" text-anchor="end" class="tk">0.5</text>
<text transform="translate(496.1,499.3) scale(1,1.05)" text-anchor="end" class="tk">0.4</text>
<text transform="translate(496.1,593.8) scale(1,1.05)" text-anchor="end" class="tk">0.3</text>
<text transform="translate(496.1,688.3) scale(1,1.05)" text-anchor="end" class="tk">0.2</text>
<text transform="translate(496.1,782.8) scale(1,1.05)" text-anchor="end" class="tk">0.1</text>
<text transform="translate(496.1,877.3) scale(1,1.05)" text-anchor="end" class="tk">0.0</text>
<text transform="translate(526.1,960.5) scale(1,1.05)" text-anchor="middle" class="tk">1.5</text>
<text transform="translate(638.2,960.5) scale(1,1.05)" text-anchor="middle" class="tk">2.0</text>
<text transform="translate(750.4,960.5) scale(1,1.05)" text-anchor="middle" class="tk">2.5</text>
<text transform="translate(862.5,960.5) scale(1,1.05)" text-anchor="middle" class="tk">3.0</text>
<text transform="translate(974.6,960.5) scale(1,1.05)" text-anchor="middle" class="tk">3.5</text>
<path d="M508.6,17.0H525.6M517.1,64.3H525.6M508.6,111.5H525.6M517.1,158.8H525.6M508.6,206.0H525.6M517.1,253.3H525.6M508.6,300.5H525.6M517.1,347.8H525.6M508.6,395.0H525.6M517.1,442.3H525.6M508.6,489.5H525.6M517.1,536.8H525.6M508.6,584.0H525.6M517.1,631.3H525.6M508.6,678.5H525.6M517.1,725.8H525.6M508.6,773.0H525.6M517.1,820.3H525.6M508.6,867.5H525.6M517.1,914.8H525.6M581.7,914.8V906.3M581.7,17.0V25.5M637.7,914.8V897.8M637.7,17.0V34.0M693.8,914.8V906.3M693.8,17.0V25.5M749.9,914.8V897.8M749.9,17.0V34.0M805.9,914.8V906.3M805.9,17.0V25.5M862.0,914.8V897.8M862.0,17.0V34.0M918.0,914.8V906.3M918.0,17.0V25.5" stroke="#000" stroke-width="2.2" fill="none"/>
<text transform="translate(749.9,1017) scale(1,1.05)" text-anchor="middle" class="tk" style="font-size:33.4px">Sample bias (V)</text>
<text x="414.3" y="57.3" class="pl">d</text>
<path d="M566.6,91.6H606.1" stroke="#919191" stroke-width="3.4"/>
<text x="614.2" y="102.8" class="tk">3V3O<tspan dy="8.7" font-size="21px">2</tspan><tspan dy="-8.7"> center</tspan></text>
<path d="M566.6,139.4H606.1" stroke="#4daf78" stroke-width="3.4"/>
<text x="614.2" y="150.4" class="tk">Hexamer center</text>
<path d="M566.6,180.1H606.1" stroke="#e0bd35" stroke-width="3.4"/>
<text x="614.2" y="190.9" class="tk">Trimer center</text>
<path d="M566.6,220.6H606.1" stroke="#b8141b" stroke-width="3.4"/>
<text x="614.2" y="232.0" class="tk">Bare surface</text>
<path d="M1111.5,816.3 1112.6,816.6 1113.7,816.7 1114.8,815.8 1115.9,815.9 1117.0,816.3 1118.1,815.5 1119.2,815.7 1120.3,815.0 1121.4,815.0 1122.5,815.1 1123.6,816.2 1124.7,815.0 1125.8,814.9 1126.9,814.9 1128.0,815.0 1129.1,815.4 1130.2,815.2 1131.3,816.1 1132.4,815.3 1133.5,816.0 1134.6,815.6 1135.7,815.8 1136.8,815.0 1137.9,815.8 1139.0,815.9 1140.1,816.0 1141.2,815.3 1142.3,816.9 1143.4,816.5 1144.5,816.6 1145.6,816.9 1146.7,817.1 1147.8,817.5 1148.9,816.9 1150.0,817.3 1151.1,818.0 1152.2,818.0 1153.3,818.0 1154.4,818.0 1155.5,818.1 1156.6,818.6 1157.7,819.3 1158.8,818.4 1159.9,819.8 1161.0,819.6 1162.1,819.2 1163.2,819.9 1164.3,819.1 1165.4,819.1 1166.5,819.5 1167.6,820.1 1168.7,820.3 1169.8,820.4 1170.9,820.8 1172.0,820.0 1173.1,821.3 1174.2,820.7 1175.3,821.2 1176.4,821.5 1177.5,821.3 1178.6,821.4 1179.7,821.8 1180.8,822.4 1181.9,822.8 1183.0,823.0 1184.1,822.5 1185.2,822.8 1186.3,822.9 1187.4,823.7 1188.5,822.8 1189.6,824.5 1190.7,823.9 1191.8,824.0 1192.9,824.7 1194.0,825.2 1195.1,825.1 1196.2,825.6 1197.3,825.4 1198.4,826.1 1199.5,826.3 1200.6,826.0 1201.7,826.9 1202.8,826.5 1203.9,826.7 1205.0,826.5 1206.1,827.1 1207.2,827.8 1208.3,827.1 1209.4,828.2 1210.5,828.3 1211.6,828.6 1212.7,827.7 1213.8,828.9 1214.9,829.5 1216.0,829.1 1217.1,829.8 1218.2,828.9 1219.3,830.5 1220.4,830.2 1221.5,831.1 1222.6,830.1 1223.7,831.5 1224.8,831.4 1225.9,832.1 1227.0,831.6 1228.1,831.9 1229.2,833.5 1230.3,832.4 1231.4,832.7 1232.5,833.1 1233.6,833.0 1234.7,834.3 1235.8,834.8 1236.9,833.9 1238.0,833.7 1239.1,835.3 1240.2,835.5 1241.3,835.6 1242.4,836.0 1243.5,835.3 1244.6,835.9 1245.7,835.6 1246.8,835.8 1247.9,837.2 1249.0,836.7 1250.1,838.3 1251.2,837.5 1252.3,837.5 1253.4,838.4 1254.5,839.1 1255.6,838.7 1256.7,838.2 1257.8,839.2 1258.9,839.9 1260.0,839.3 1261.1,839.4 1262.2,840.4 1263.3,840.3 1264.4,839.9 1265.5,840.5 1266.6,840.5 1267.7,841.2 1268.8,841.3 1269.9,842.0 1271.0,842.0 1272.1,841.1 1273.2,842.2 1274.3,842.6 1275.4,842.6 1276.5,843.1 1277.6,842.5 1278.7,842.5 1279.8,843.5 1280.9,842.8 1282.0,842.5 1283.1,844.1 1284.2,843.4 1285.3,843.8 1286.4,843.4 1287.5,843.6 1288.6,843.8 1289.7,844.3 1290.8,844.7 1291.9,843.6 1293.0,845.1 1294.1,844.4 1295.2,844.5 1296.3,845.4 1297.4,845.2 1298.5,844.6 1299.6,846.3 1300.7,845.2 1301.8,845.8 1302.9,845.8 1304.0,846.5 1305.1,845.7 1306.2,846.4 1307.3,845.7 1308.4,846.6 1309.5,845.8 1310.6,846.1 1311.7,847.1 1312.8,846.4 1313.9,846.3 1315.0,847.3 1316.1,846.4 1317.2,845.9 1318.3,846.5 1319.4,845.5 1320.5,846.5 1321.6,846.4 1322.7,845.4 1323.8,845.3 1324.9,845.5 1326.0,845.2 1327.1,844.6 1328.2,845.1 1329.3,843.8 1330.4,844.4 1331.5,844.2 1332.6,844.1 1333.7,844.2 1334.8,843.3 1335.9,843.9 1337.0,843.3 1338.1,842.9 1339.2,842.3 1340.3,842.1 1341.4,842.6 1342.5,841.7 1343.6,841.9 1344.7,842.1 1345.8,841.8 1346.9,841.7 1348.0,840.6 1349.1,839.9 1350.2,840.5 1351.3,839.8 1352.4,839.8 1353.5,838.9 1354.6,839.1 1355.7,838.5 1356.8,838.0 1357.9,837.5 1359.0,837.0 1360.1,836.5 1361.2,836.0 1362.3,835.9 1363.4,834.7 1364.5,835.2 1365.6,833.9 1366.7,833.9 1367.8,833.0 1368.9,832.4 1370.0,832.9 1371.1,831.4 1372.2,830.5 1373.3,830.2 1374.4,829.9 1375.5,830.5 1376.6,829.1 1377.7,828.9 1378.8,827.5 1379.9,827.6 1381.0,827.2 1382.1,827.2 1383.2,825.5 1384.3,825.6 1385.4,824.9 1386.5,823.7 1387.6,823.6 1388.7,822.9 1389.8,821.4 1390.9,822.1 1392.0,821.5 1393.1,820.4 1394.2,819.4 1395.3,820.1 1396.4,818.9 1397.5,818.6 1398.6,818.2 1399.7,816.7 1400.8,816.6 1401.9,815.5 1403.0,814.9 1404.1,814.2 1405.2,813.6 1406.3,813.4 1407.4,812.2 1408.5,811.4 1409.6,810.6 1410.7,810.1 1411.8,808.8 1412.9,808.2 1414.0,807.6 1415.1,806.6 1416.2,806.0 1417.3,804.9 1418.4,805.3 1419.5,804.1 1420.6,802.8 1421.7,801.7 1422.8,801.7 1423.9,799.9 1425.0,798.7 1426.1,797.8 1427.2,796.7 1428.3,796.1 1429.4,794.2 1430.5,793.9 1431.6,791.2 1432.7,790.5 1433.8,788.3 1434.9,788.0 1436.0,785.5 1437.1,784.1 1438.2,782.9 1439.3,781.5 1440.4,778.8 1441.5,777.5 1442.6,775.4 1443.7,774.4 1444.8,772.6 1445.9,770.7 1447.0,768.8 1448.1,767.1 1449.2,765.1 1450.3,763.8 1451.4,762.3 1452.5,758.8 1453.6,757.7 1454.7,755.6 1455.8,754.0 1456.9,751.3 1458.0,749.6 1459.1,747.0 1460.2,745.7 1461.3,743.2 1462.4,740.9 1463.5,738.9 1464.6,736.3 1465.7,733.4 1466.8,732.1 1467.9,729.7 1469.0,727.2 1470.1,725.4 1471.2,723.2 1472.3,719.9 1473.4,717.7 1474.5,716.4 1475.6,714.0 1476.7,710.6 1477.8,708.0 1478.9,705.6 1480.0,703.0 1481.1,699.7 1482.2,697.5 1483.3,693.9 1484.4,690.7 1485.5,688.4 1486.6,684.3 1487.7,681.2 1488.8,678.0 1489.9,674.7 1491.0,670.8 1492.1,667.5 1493.2,663.8 1494.3,661.6 1495.4,657.8 1496.5,653.6 1497.6,650.7 1498.7,647.6 1499.8,644.1 1500.9,641.3 1502.0,637.7 1503.1,633.4 1504.2,630.2 1505.3,626.3 1506.4,623.6 1507.5,620.2 1508.6,618.0 1509.7,613.4 1510.8,609.1 1511.9,606.3 1513.0,603.3 1514.1,599.3 1515.2,596.2 1516.3,593.1 1517.4,590.1 1518.5,586.7 1519.6,583.2 1520.7,580.8 1521.8,577.1 1522.9,574.0 1524.0,570.5 1525.1,567.7 1526.2,565.3 1527.3,561.3 1528.4,559.0 1529.5,556.4 1530.6,553.1 1531.7,550.6 1532.8,547.3 1533.9,545.8 1535.0,543.2 1536.1,540.3 1537.2,537.1 1538.3,535.1 1539.4,533.7 1540.5,531.9 1541.6,529.1 1542.7,527.4 1543.8,524.4 1544.9,522.5 1546.0,520.6 1547.1,518.7 1548.2,515.8 1549.3,514.8 1550.4,513.0 1551.5,509.9 1552.6,507.8 1553.7,506.7 1554.8,504.3 1555.9,501.6 1557.0,501.2 1558.1,499.1 1559.0,497.3" fill="none" stroke="#b8141b" stroke-width="3.2" stroke-linejoin="round" stroke-linecap="butt"/>
<path d="M1111.5,662.1 1112.6,661.5 1113.7,661.3 1114.8,661.6 1115.9,661.3 1117.0,661.5 1118.1,662.0 1119.2,661.7 1120.3,661.8 1121.4,662.6 1122.5,662.4 1123.6,662.4 1124.7,662.4 1125.8,662.4 1126.9,662.8 1128.0,662.4 1129.1,663.1 1130.2,662.2 1131.3,662.5 1132.4,662.1 1133.5,662.5 1134.6,662.9 1135.7,663.3 1136.8,662.6 1137.9,662.8 1139.0,662.8 1140.1,662.7 1141.2,662.6 1142.3,663.1 1143.4,662.5 1144.5,663.2 1145.6,663.2 1146.7,663.0 1147.8,662.9 1148.9,662.9 1150.0,664.1 1151.1,663.0 1152.2,664.1 1153.3,663.8 1154.4,663.5 1155.5,663.3 1156.6,664.2 1157.7,664.5 1158.8,663.7 1159.9,664.0 1161.0,664.5 1162.1,664.4 1163.2,665.0 1164.3,664.2 1165.4,664.7 1166.5,664.2 1167.6,665.4 1168.7,664.6 1169.8,664.1 1170.9,665.0 1172.0,665.1 1173.1,665.9 1174.2,665.2 1175.3,665.4 1176.4,665.8 1177.5,666.2 1178.6,665.8 1179.7,666.3 1180.8,666.2 1181.9,666.0 1183.0,666.3 1184.1,666.4 1185.2,666.2 1186.3,667.1 1187.4,666.3 1188.5,667.3 1189.6,667.4 1190.7,667.2 1191.8,667.1 1192.9,667.5 1194.0,667.9 1195.1,668.1 1196.2,668.2 1197.3,668.6 1198.4,668.3 1199.5,668.8 1200.6,668.4 1201.7,669.4 1202.8,669.5 1203.9,669.6 1205.0,670.5 1206.1,670.6 1207.2,669.8 1208.3,671.1 1209.4,671.0 1210.5,672.2 1211.6,673.1 1212.7,672.5 1213.8,673.1 1214.9,673.4 1216.0,674.0 1217.1,674.5 1218.2,675.1 1219.3,674.8 1220.4,676.1 1221.5,675.6 1222.6,676.5 1223.7,677.2 1224.8,677.5 1225.9,677.4 1227.0,678.0 1228.1,678.6 1229.2,679.3 1230.3,680.2 1231.4,679.9 1232.5,681.0 1233.6,681.6 1234.7,682.1 1235.8,682.6 1236.9,683.5 1238.0,683.7 1239.1,684.3 1240.2,684.7 1241.3,685.6 1242.4,684.8 1243.5,686.3 1244.6,686.2 1245.7,686.6 1246.8,686.7 1247.9,686.8 1249.0,687.8 1250.1,688.1 1251.2,688.9 1252.3,688.7 1253.4,690.1 1254.5,690.1 1255.6,690.3 1256.7,690.5 1257.8,690.9 1258.9,691.1 1260.0,691.6 1261.1,692.1 1262.2,692.3 1263.3,692.1 1264.4,692.8 1265.5,692.7 1266.6,693.2 1267.7,693.9 1268.8,693.6 1269.9,693.3 1271.0,692.9 1272.1,693.1 1273.2,693.1 1274.3,694.0 1275.4,693.5 1276.5,693.8 1277.6,693.6 1278.7,693.9 1279.8,694.4 1280.9,693.7 1282.0,693.9 1283.1,693.7 1284.2,694.3 1285.3,693.6 1286.4,693.4 1287.5,693.1 1288.6,692.8 1289.7,693.1 1290.8,693.4 1291.9,691.7 1293.0,691.8 1294.1,691.0 1295.2,690.0 1296.3,689.7 1297.4,689.1 1298.5,688.3 1299.6,688.5 1300.7,686.3 1301.8,686.1 1302.9,685.0 1304.0,683.5 1305.1,682.6 1306.2,681.6 1307.3,680.0 1308.4,678.8 1309.5,677.6 1310.6,675.3 1311.7,675.0 1312.8,673.7 1313.9,671.6 1315.0,669.9 1316.1,667.3 1317.2,666.1 1318.3,664.2 1319.4,662.8 1320.5,662.1 1321.6,660.3 1322.7,659.5 1323.8,657.8 1324.9,657.4 1326.0,656.5 1327.1,655.3 1328.2,654.5 1329.3,654.7 1330.4,653.1 1331.5,652.8 1332.6,652.8 1333.7,653.7 1334.8,654.3 1335.9,654.2 1337.0,654.5 1338.1,655.4 1339.2,656.8 1340.3,657.1 1341.4,659.3 1342.5,661.2 1343.6,662.5 1344.7,664.4 1345.8,666.1 1346.9,668.2 1348.0,669.0 1349.1,671.5 1350.2,672.7 1351.3,674.3 1352.4,676.2 1353.5,677.8 1354.6,679.1 1355.7,680.4 1356.8,682.1 1357.9,684.4 1359.0,685.9 1360.1,686.7 1361.2,688.1 1362.3,688.7 1363.4,690.0 1364.5,691.3 1365.6,691.9 1366.7,693.1 1367.8,694.6 1368.9,695.6 1370.0,696.5 1371.1,698.2 1372.2,699.2 1373.3,700.9 1374.4,701.8 1375.5,702.9 1376.6,704.4 1377.7,705.6 1378.8,706.7 1379.9,708.1 1381.0,709.8 1382.1,711.0 1383.2,712.5 1384.3,712.7 1385.4,714.4 1386.5,715.7 1387.6,717.0 1388.7,718.0 1389.8,719.2 1390.9,720.8 1392.0,721.8 1393.1,722.5 1394.2,724.6 1395.3,725.6 1396.4,726.1 1397.5,727.6 1398.6,728.0 1399.7,729.4 1400.8,729.8 1401.9,730.5 1403.0,731.5 1404.1,732.1 1405.2,732.9 1406.3,733.2 1407.4,733.1 1408.5,732.7 1409.6,731.4 1410.7,732.4 1411.8,731.3 1412.9,731.6 1414.0,731.4 1415.1,730.6 1416.2,729.8 1417.3,729.3 1418.4,728.7 1419.5,727.9 1420.6,727.0 1421.7,726.0 1422.8,725.7 1423.9,724.2 1425.0,723.3 1426.1,721.7 1427.2,720.5 1428.3,719.2 1429.4,718.1 1430.5,717.0 1431.6,715.5 1432.7,714.0 1433.8,712.8 1434.9,712.4 1436.0,710.5 1437.1,709.3 1438.2,708.6 1439.3,707.2 1440.4,705.7 1441.5,704.1 1442.6,703.7 1443.7,701.6 1444.8,700.3 1445.9,698.7 1447.0,696.8 1448.1,695.4 1449.2,694.6 1450.3,693.1 1451.4,691.3 1452.5,689.5 1453.6,687.9 1454.7,686.7 1455.8,684.7 1456.9,684.0 1458.0,682.4 1459.1,681.4 1460.2,679.1 1461.3,676.9 1462.4,675.1 1463.5,672.5 1464.6,671.7 1465.7,670.2 1466.8,668.8 1467.9,666.9 1469.0,665.2 1470.1,663.2 1471.2,661.6 1472.3,660.0 1473.4,657.3 1474.5,655.6 1475.6,653.4 1476.7,652.5 1477.8,650.4 1478.9,648.1 1480.0,645.4 1481.1,643.7 1482.2,641.4 1483.3,639.2 1484.4,636.8 1485.5,634.7 1486.6,631.9 1487.7,629.9 1488.8,627.1 1489.9,624.2 1491.0,621.5 1492.1,618.6 1493.2,616.1 1494.3,612.8 1495.4,609.9 1496.5,606.5 1497.6,602.9 1498.7,600.3 1499.8,595.9 1500.9,592.6 1502.0,588.5 1503.1,583.7 1504.2,579.7 1505.3,575.6 1506.4,571.2 1507.5,566.7 1508.6,563.1 1509.7,558.6 1510.8,554.7 1511.9,550.4 1513.0,546.7 1514.1,542.4 1515.2,538.8 1516.3,535.1 1517.4,531.0 1518.5,526.9 1519.6,522.7 1520.7,519.2 1521.8,515.3 1522.9,511.1 1524.0,506.9 1525.1,503.2 1526.2,499.7 1527.3,494.6 1528.4,490.6 1529.5,486.6 1530.6,481.5 1531.7,478.6 1532.8,474.4 1533.9,471.2 1535.0,466.7 1536.1,462.7 1537.2,459.1 1538.3,455.5 1539.4,451.6 1540.5,448.1 1541.6,444.2 1542.7,441.1 1543.8,438.2 1544.9,435.4 1546.0,431.7 1547.1,428.4 1548.2,425.7 1549.3,422.6 1550.4,419.8 1551.5,416.7 1552.6,413.4 1553.7,410.7 1554.8,407.9 1555.9,405.3 1557.0,402.6 1558.1,399.8 1559.0,397.3" fill="none" stroke="#e0bd35" stroke-width="3.2" stroke-linejoin="round" stroke-linecap="butt"/>
<path d="M1111.5,521.9 1112.6,521.3 1113.7,522.3 1114.8,522.3 1115.9,521.6 1117.0,522.7 1118.1,522.8 1119.2,522.5 1120.3,523.3 1121.4,523.4 1122.5,522.1 1123.6,523.2 1124.7,523.0 1125.8,523.0 1126.9,523.3 1128.0,522.7 1129.1,522.8 1130.2,522.8 1131.3,522.9 1132.4,523.3 1133.5,522.7 1134.6,523.0 1135.7,523.9 1136.8,523.7 1137.9,524.0 1139.0,523.1 1140.1,523.7 1141.2,523.9 1142.3,524.3 1143.4,524.2 1144.5,525.0 1145.6,524.6 1146.7,524.8 1147.8,524.9 1148.9,525.3 1150.0,524.9 1151.1,525.8 1152.2,525.6 1153.3,525.5 1154.4,525.6 1155.5,525.9 1156.6,526.2 1157.7,526.3 1158.8,526.1 1159.9,526.5 1161.0,526.2 1162.1,526.8 1163.2,526.4 1164.3,525.5 1165.4,527.2 1166.5,526.7 1167.6,526.3 1168.7,526.8 1169.8,526.6 1170.9,528.1 1172.0,527.5 1173.1,526.7 1174.2,527.8 1175.3,527.5 1176.4,528.7 1177.5,527.5 1178.6,527.1 1179.7,528.3 1180.8,528.3 1181.9,528.5 1183.0,527.9 1184.1,529.3 1185.2,530.0 1186.3,528.6 1187.4,530.2 1188.5,529.6 1189.6,531.2 1190.7,530.5 1191.8,530.5 1192.9,531.3 1194.0,531.2 1195.1,530.9 1196.2,531.7 1197.3,531.4 1198.4,531.1 1199.5,533.0 1200.6,532.2 1201.7,532.3 1202.8,532.9 1203.9,532.3 1205.0,532.7 1206.1,533.3 1207.2,533.5 1208.3,534.0 1209.4,534.8 1210.5,534.3 1211.6,535.0 1212.7,535.3 1213.8,534.8 1214.9,535.6 1216.0,535.3 1217.1,536.5 1218.2,536.4 1219.3,536.5 1220.4,536.1 1221.5,537.0 1222.6,536.8 1223.7,537.7 1224.8,537.5 1225.9,537.5 1227.0,538.5 1228.1,538.6 1229.2,538.2 1230.3,539.3 1231.4,538.8 1232.5,539.0 1233.6,539.4 1234.7,539.3 1235.8,539.6 1236.9,539.9 1238.0,540.9 1239.1,541.0 1240.2,540.4 1241.3,541.4 1242.4,540.8 1243.5,541.1 1244.6,541.5 1245.7,541.3 1246.8,542.4 1247.9,541.5 1249.0,540.9 1250.1,542.1 1251.2,541.4 1252.3,541.5 1253.4,540.4 1254.5,542.2 1255.6,542.2 1256.7,542.3 1257.8,542.4 1258.9,542.8 1260.0,542.1 1261.1,542.6 1262.2,541.9 1263.3,542.1 1264.4,542.9 1265.5,542.7 1266.6,542.0 1267.7,542.8 1268.8,542.7 1269.9,542.6 1271.0,543.3 1272.1,543.0 1273.2,542.7 1274.3,543.1 1275.4,544.6 1276.5,543.3 1277.6,544.3 1278.7,544.7 1279.8,544.9 1280.9,544.3 1282.0,545.0 1283.1,545.4 1284.2,546.0 1285.3,545.6 1286.4,545.6 1287.5,546.9 1288.6,547.3 1289.7,547.3 1290.8,547.3 1291.9,548.2 1293.0,548.5 1294.1,549.3 1295.2,548.8 1296.3,549.9 1297.4,550.2 1298.5,550.2 1299.6,551.2 1300.7,551.4 1301.8,551.6 1302.9,552.2 1304.0,551.6 1305.1,552.4 1306.2,552.9 1307.3,553.0 1308.4,553.6 1309.5,552.8 1310.6,552.9 1311.7,553.8 1312.8,554.1 1313.9,555.0 1315.0,554.4 1316.1,553.9 1317.2,554.7 1318.3,554.0 1319.4,553.7 1320.5,555.6 1321.6,554.5 1322.7,554.7 1323.8,554.6 1324.9,555.1 1326.0,554.3 1327.1,554.7 1328.2,553.6 1329.3,553.3 1330.4,554.5 1331.5,554.4 1332.6,553.8 1333.7,553.6 1334.8,553.4 1335.9,552.9 1337.0,553.7 1338.1,553.1 1339.2,552.7 1340.3,552.3 1341.4,552.1 1342.5,551.3 1343.6,550.8 1344.7,549.3 1345.8,549.3 1346.9,549.3 1348.0,547.3 1349.1,546.5 1350.2,545.6 1351.3,544.0 1352.4,542.0 1353.5,538.9 1354.6,537.6 1355.7,534.6 1356.8,532.6 1357.9,531.1 1359.0,528.8 1360.1,527.6 1361.2,526.9 1362.3,524.0 1363.4,522.1 1364.5,519.4 1365.6,517.7 1366.7,515.9 1367.8,514.7 1368.9,513.2 1370.0,512.6 1371.1,512.4 1372.2,512.0 1373.3,511.9 1374.4,512.1 1375.5,513.2 1376.6,513.4 1377.7,514.2 1378.8,514.6 1379.9,514.8 1381.0,516.4 1382.1,517.0 1383.2,520.5 1384.3,522.0 1385.4,523.5 1386.5,525.2 1387.6,528.0 1388.7,529.0 1389.8,531.3 1390.9,533.6 1392.0,534.9 1393.1,536.2 1394.2,538.5 1395.3,539.2 1396.4,541.4 1397.5,542.6 1398.6,543.9 1399.7,546.0 1400.8,546.7 1401.9,549.3 1403.0,549.4 1404.1,551.7 1405.2,551.4 1406.3,553.1 1407.4,553.3 1408.5,554.1 1409.6,555.7 1410.7,556.8 1411.8,556.7 1412.9,558.6 1414.0,558.5 1415.1,559.7 1416.2,560.6 1417.3,561.4 1418.4,561.0 1419.5,563.3 1420.6,563.5 1421.7,563.8 1422.8,564.2 1423.9,564.7 1425.0,565.6 1426.1,567.3 1427.2,567.8 1428.3,568.2 1429.4,569.4 1430.5,571.1 1431.6,571.0 1432.7,571.6 1433.8,573.1 1434.9,573.3 1436.0,573.5 1437.1,573.6 1438.2,573.3 1439.3,573.6 1440.4,573.8 1441.5,573.7 1442.6,573.6 1443.7,573.2 1444.8,572.4 1445.9,571.8 1447.0,570.5 1448.1,569.2 1449.2,569.1 1450.3,568.1 1451.4,567.3 1452.5,566.3 1453.6,564.5 1454.7,562.9 1455.8,561.5 1456.9,559.7 1458.0,557.2 1459.1,555.5 1460.2,552.9 1461.3,550.2 1462.4,548.3 1463.5,546.6 1464.6,542.5 1465.7,540.2 1466.8,537.0 1467.9,533.6 1469.0,529.0 1470.1,526.7 1471.2,522.3 1472.3,518.6 1473.4,515.2 1474.5,512.3 1475.6,508.5 1476.7,504.6 1477.8,501.4 1478.9,496.6 1480.0,492.7 1481.1,490.0 1482.2,486.8 1483.3,484.2 1484.4,481.0 1485.5,480.4 1486.6,479.0 1487.7,478.5 1488.8,476.2 1489.9,476.1 1491.0,475.3 1492.1,474.4 1493.2,474.8 1494.3,475.7 1495.4,475.1 1496.5,475.2 1497.6,476.2 1498.7,476.4 1499.8,476.6 1500.9,475.9 1502.0,476.3 1503.1,476.5 1504.2,475.1 1505.3,474.1 1506.4,473.6 1507.5,472.5 1508.6,469.7 1509.7,467.5 1510.8,466.4 1511.9,465.0 1513.0,463.5 1514.1,461.7 1515.2,458.6 1516.3,454.8 1517.4,451.0 1518.5,445.9 1519.6,441.6 1520.7,436.8 1521.8,433.8 1522.9,428.3 1524.0,422.8 1525.1,418.0 1526.2,413.4 1527.3,408.1 1528.4,403.8 1529.5,399.2 1530.6,395.4 1531.7,390.4 1532.8,385.9 1533.9,381.3 1535.0,377.0 1536.1,373.2 1537.2,368.8 1538.3,365.1 1539.4,359.9 1540.5,356.2 1541.6,351.4 1542.7,346.8 1543.8,341.4 1544.9,337.2 1546.0,333.8 1547.1,329.7 1548.2,325.0 1549.3,321.2 1550.4,316.6 1551.5,312.7 1552.6,308.7 1553.7,305.5 1554.8,301.5 1555.9,297.5 1557.0,293.8 1558.1,290.6 1559.0,287.6" fill="none" stroke="#4daf78" stroke-width="3.2" stroke-linejoin="round" stroke-linecap="butt"/>
<path d="M1111.5,389.7 1112.6,391.6 1113.7,390.5 1114.8,390.4 1115.9,391.5 1117.0,391.2 1118.1,390.4 1119.2,390.9 1120.3,389.8 1121.4,390.2 1122.5,389.0 1123.6,391.7 1124.7,389.4 1125.8,391.4 1126.9,390.3 1128.0,390.2 1129.1,390.9 1130.2,391.3 1131.3,391.7 1132.4,392.6 1133.5,391.6 1134.6,392.1 1135.7,391.1 1136.8,392.2 1137.9,391.9 1139.0,391.6 1140.1,391.9 1141.2,392.1 1142.3,392.4 1143.4,392.7 1144.5,392.1 1145.6,392.1 1146.7,393.3 1147.8,391.6 1148.9,392.5 1150.0,394.3 1151.1,391.2 1152.2,392.8 1153.3,394.0 1154.4,392.4 1155.5,395.7 1156.6,391.9 1157.7,395.1 1158.8,395.3 1159.9,394.9 1161.0,394.2 1162.1,394.8 1163.2,394.0 1164.3,395.4 1165.4,394.1 1166.5,394.9 1167.6,395.9 1168.7,394.5 1169.8,395.2 1170.9,395.7 1172.0,394.7 1173.1,396.8 1174.2,396.3 1175.3,395.0 1176.4,396.3 1177.5,395.9 1178.6,396.1 1179.7,396.8 1180.8,396.3 1181.9,397.7 1183.0,396.6 1184.1,398.1 1185.2,397.4 1186.3,398.3 1187.4,397.4 1188.5,397.5 1189.6,397.2 1190.7,398.6 1191.8,399.0 1192.9,400.1 1194.0,399.6 1195.1,398.9 1196.2,398.7 1197.3,399.3 1198.4,399.1 1199.5,400.4 1200.6,400.1 1201.7,398.9 1202.8,399.1 1203.9,400.7 1205.0,400.1 1206.1,399.8 1207.2,400.9 1208.3,399.9 1209.4,400.1 1210.5,400.0 1211.6,399.0 1212.7,401.2 1213.8,399.8 1214.9,400.4 1216.0,400.3 1217.1,401.5 1218.2,401.0 1219.3,401.2 1220.4,400.0 1221.5,401.3 1222.6,400.4 1223.7,401.8 1224.8,402.0 1225.9,401.8 1227.0,403.4 1228.1,402.4 1229.2,402.5 1230.3,402.2 1231.4,402.1 1232.5,403.0 1233.6,403.2 1234.7,401.5 1235.8,403.4 1236.9,403.1 1238.0,403.5 1239.1,403.2 1240.2,402.0 1241.3,402.2 1242.4,404.6 1243.5,403.5 1244.6,402.4 1245.7,403.9 1246.8,403.5 1247.9,402.6 1249.0,402.5 1250.1,403.2 1251.2,404.8 1252.3,404.8 1253.4,404.9 1254.5,405.5 1255.6,406.0 1256.7,404.3 1257.8,405.9 1258.9,405.8 1260.0,405.8 1261.1,406.6 1262.2,407.2 1263.3,407.4 1264.4,406.8 1265.5,407.9 1266.6,410.0 1267.7,408.1 1268.8,407.9 1269.9,409.7 1271.0,410.3 1272.1,410.5 1273.2,409.7 1274.3,411.7 1275.4,410.7 1276.5,410.9 1277.6,411.7 1278.7,412.5 1279.8,413.5 1280.9,413.8 1282.0,413.7 1283.1,414.9 1284.2,414.6 1285.3,415.7 1286.4,414.3 1287.5,414.6 1288.6,416.7 1289.7,415.5 1290.8,416.6 1291.9,417.2 1293.0,417.2 1294.1,417.7 1295.2,419.5 1296.3,417.0 1297.4,419.9 1298.5,421.4 1299.6,420.1 1300.7,420.4 1301.8,421.3 1302.9,422.5 1304.0,420.4 1305.1,421.6 1306.2,421.5 1307.3,422.1 1308.4,421.8 1309.5,422.2 1310.6,421.4 1311.7,421.7 1312.8,421.1 1313.9,421.1 1315.0,421.4 1316.1,421.4 1317.2,420.6 1318.3,422.6 1319.4,421.2 1320.5,420.2 1321.6,422.0 1322.7,420.4 1323.8,421.0 1324.9,420.1 1326.0,419.7 1327.1,418.9 1328.2,417.5 1329.3,417.0 1330.4,417.5 1331.5,413.3 1332.6,414.0 1333.7,413.2 1334.8,411.0 1335.9,409.5 1337.0,410.6 1338.1,407.0 1339.2,407.2 1340.3,404.3 1341.4,402.3 1342.5,401.1 1343.6,400.0 1344.7,399.2 1345.8,397.5 1346.9,396.0 1348.0,394.9 1349.1,394.7 1350.2,393.2 1351.3,391.0 1352.4,390.5 1353.5,390.7 1354.6,389.7 1355.7,389.8 1356.8,389.5 1357.9,390.1 1359.0,390.8 1360.1,391.5 1361.2,391.0 1362.3,392.9 1363.4,391.7 1364.5,394.5 1365.6,393.2 1366.7,393.3 1367.8,393.3 1368.9,392.4 1370.0,395.4 1371.1,396.7 1372.2,399.1 1373.3,397.8 1374.4,401.3 1375.5,400.7 1376.6,402.3 1377.7,400.6 1378.8,403.1 1379.9,403.2 1381.0,404.4 1382.1,404.3 1383.2,403.7 1384.3,405.6 1385.4,405.7 1386.5,405.9 1387.6,406.5 1388.7,406.8 1389.8,406.2 1390.9,405.5 1392.0,405.8 1393.1,408.1 1394.2,408.0 1395.3,407.8 1396.4,407.8 1397.5,408.6 1398.6,409.0 1399.7,409.2 1400.8,409.3 1401.9,411.9 1403.0,410.9 1404.1,410.7 1405.2,410.5 1406.3,411.3 1407.4,412.6 1408.5,412.8 1409.6,412.2 1410.7,412.6 1411.8,412.4 1412.9,412.0 1414.0,413.9 1415.1,413.3 1416.2,415.0 1417.3,412.6 1418.4,413.2 1419.5,414.0 1420.6,413.2 1421.7,412.4 1422.8,412.7 1423.9,413.4 1425.0,413.5 1426.1,413.0 1427.2,413.5 1428.3,413.2 1429.4,412.3 1430.5,411.6 1431.6,411.0 1432.7,411.1 1433.8,410.9 1434.9,409.7 1436.0,409.3 1437.1,407.8 1438.2,406.0 1439.3,405.2 1440.4,405.2 1441.5,403.6 1442.6,403.0 1443.7,400.4 1444.8,399.4 1445.9,398.2 1447.0,396.4 1448.1,393.6 1449.2,392.3 1450.3,390.9 1451.4,388.3 1452.5,387.6 1453.6,386.1 1454.7,383.0 1455.8,382.8 1456.9,379.0 1458.0,376.8 1459.1,374.5 1460.2,371.7 1461.3,370.1 1462.4,367.1 1463.5,365.5 1464.6,361.8 1465.7,358.7 1466.8,355.0 1467.9,350.8 1469.0,348.4 1470.1,344.3 1471.2,342.1 1472.3,337.7 1473.4,334.8 1474.5,329.6 1475.6,325.0 1476.7,319.8 1477.8,315.1 1478.9,311.0 1480.0,306.9 1481.1,301.9 1482.2,299.2 1483.3,297.2 1484.4,291.7 1485.5,288.2 1486.6,284.7 1487.7,281.3 1488.8,280.7 1489.9,277.9 1491.0,276.4 1492.1,276.0 1493.2,275.0 1494.3,271.4 1495.4,272.2 1496.5,271.8 1497.6,271.9 1498.7,272.3 1499.8,272.5 1500.9,274.3 1502.0,274.2 1503.1,274.7 1504.2,276.3 1505.3,277.1 1506.4,277.9 1507.5,278.6 1508.6,280.2 1509.7,279.4 1510.8,278.8 1511.9,278.0 1513.0,278.1 1514.1,277.2 1515.2,277.6 1516.3,277.1 1517.4,273.8 1518.5,273.0 1519.6,270.9 1520.7,268.3 1521.8,265.3 1522.9,264.7 1524.0,260.9 1525.1,258.1 1526.2,255.7 1527.3,253.9 1528.4,252.0 1529.5,249.3 1530.6,245.6 1531.7,241.4 1532.8,238.5 1533.9,234.9 1535.0,231.9 1536.1,226.9 1537.2,224.3 1538.3,220.3 1539.4,215.2 1540.5,211.0 1541.6,205.4 1542.7,200.6 1543.8,197.0 1544.9,194.3 1546.0,190.1 1547.1,185.0 1548.2,182.1 1549.3,176.8 1550.4,173.9 1551.5,168.7 1552.6,163.6 1553.7,160.0 1554.8,154.3 1555.9,149.6 1557.0,144.5 1558.1,141.1 1559.0,137.0" fill="none" stroke="#919191" stroke-width="3.2" stroke-linejoin="round" stroke-linecap="butt"/>
<rect x="1110.8" y="17.0" width="448.9" height="897.8" fill="none" stroke="#000" stroke-width="2.2"/>
<text transform="translate(1081.3,26.8) scale(1,1.05)" text-anchor="end" class="tk">0.6</text>
<text transform="translate(1081.3,164.9) scale(1,1.05)" text-anchor="end" class="tk">0.5</text>
<text transform="translate(1081.3,303.0) scale(1,1.05)" text-anchor="end" class="tk">0.4</text>
<text transform="translate(1081.3,441.2) scale(1,1.05)" text-anchor="end" class="tk">0.3</text>
<text transform="translate(1081.3,579.3) scale(1,1.05)" text-anchor="end" class="tk">0.2</text>
<text transform="translate(1081.3,717.4) scale(1,1.05)" text-anchor="end" class="tk">0.1</text>
<text transform="translate(1081.3,855.5) scale(1,1.05)" text-anchor="end" class="tk">0.0</text>
<text transform="translate(1111.3,960.5) scale(1,1.05)" text-anchor="middle" class="tk">1.5</text>
<text transform="translate(1223.5,960.5) scale(1,1.05)" text-anchor="middle" class="tk">2.0</text>
<text transform="translate(1335.8,960.5) scale(1,1.05)" text-anchor="middle" class="tk">2.5</text>
<text transform="translate(1448.0,960.5) scale(1,1.05)" text-anchor="middle" class="tk">3.0</text>
<text transform="translate(1560.2,960.5) scale(1,1.05)" text-anchor="middle" class="tk">3.5</text>
<path d="M1093.8,17.0H1110.8M1102.3,86.1H1110.8M1093.8,155.1H1110.8M1102.3,224.2H1110.8M1093.8,293.2H1110.8M1102.3,362.3H1110.8M1093.8,431.4H1110.8M1102.3,500.4H1110.8M1093.8,569.5H1110.8M1102.3,638.6H1110.8M1093.8,707.6H1110.8M1102.3,776.7H1110.8M1093.8,845.7H1110.8M1102.3,914.8H1110.8M1166.9,914.8V906.3M1166.9,17.0V25.5M1223.0,914.8V897.8M1223.0,17.0V34.0M1279.1,914.8V906.3M1279.1,17.0V25.5M1335.2,914.8V897.8M1335.2,17.0V34.0M1391.4,914.8V906.3M1391.4,17.0V25.5M1447.5,914.8V897.8M1447.5,17.0V34.0M1503.6,914.8V906.3M1503.6,17.0V25.5" stroke="#000" stroke-width="2.2" fill="none"/>
<text transform="translate(1335.2,1017) scale(1,1.05)" text-anchor="middle" class="tk" style="font-size:33.4px">Sample bias (V)</text>
<text x="1007.5" y="57.3" class="pl">e</text>
<path d="M1151.8,91.6H1191.3" stroke="#919191" stroke-width="3.4"/>
<text x="1199.4" y="102.8" class="tk">3V3O<tspan dy="8.7" font-size="21px">2</tspan><tspan dy="-8.7"> corner</tspan></text>
<path d="M1151.8,139.4H1191.3" stroke="#4daf78" stroke-width="3.4"/>
<text x="1199.4" y="150.4" class="tk">Hexamer V1</text>
<path d="M1151.8,180.1H1191.3" stroke="#e0bd35" stroke-width="3.4"/>
<text x="1199.4" y="190.9" class="tk">Trimer V1</text>
<path d="M1151.8,220.6H1191.3" stroke="#b8141b" stroke-width="3.4"/>
<text x="1199.4" y="232.0" class="tk">Bare surface</text>
<path d="M1697.3,816.7 1698.4,816.3 1699.5,817.0 1700.6,816.0 1701.7,815.7 1702.8,816.4 1703.9,816.3 1705.0,815.7 1706.1,814.7 1707.2,815.1 1708.3,815.6 1709.4,815.2 1710.5,815.9 1711.6,814.5 1712.7,815.4 1713.8,814.8 1714.9,815.7 1716.0,815.1 1717.1,815.6 1718.2,815.0 1719.3,814.7 1720.4,814.9 1721.5,815.3 1722.6,815.2 1723.7,816.4 1724.8,816.6 1725.9,816.3 1727.0,815.8 1728.1,816.4 1729.2,816.3 1730.3,817.5 1731.4,817.1 1732.5,817.4 1733.6,817.2 1734.7,816.6 1735.8,817.3 1736.9,817.3 1738.0,818.1 1739.1,818.2 1740.2,817.9 1741.3,818.3 1742.4,819.3 1743.5,818.3 1744.6,818.5 1745.7,819.0 1746.8,818.9 1747.9,819.2 1749.0,819.8 1750.1,820.5 1751.2,819.1 1752.3,820.1 1753.4,820.3 1754.5,820.4 1755.6,820.5 1756.7,820.6 1757.8,821.4 1758.9,820.9 1760.0,821.2 1761.1,821.5 1762.2,821.7 1763.3,821.8 1764.4,822.5 1765.5,822.2 1766.6,822.5 1767.7,822.5 1768.8,822.3 1769.9,822.6 1771.0,822.7 1772.1,823.4 1773.2,823.2 1774.3,823.2 1775.4,824.0 1776.5,824.3 1777.6,823.5 1778.7,825.3 1779.8,824.7 1780.9,824.9 1782.0,825.6 1783.1,825.4 1784.2,825.3 1785.3,826.8 1786.4,825.5 1787.5,826.2 1788.6,826.8 1789.7,826.2 1790.8,826.9 1791.9,827.4 1793.0,828.5 1794.1,827.3 1795.2,827.9 1796.3,828.5 1797.4,828.5 1798.5,828.2 1799.6,829.1 1800.7,829.3 1801.8,829.7 1802.9,830.2 1804.0,830.4 1805.1,830.4 1806.2,830.6 1807.3,830.2 1808.4,830.9 1809.5,831.3 1810.6,831.3 1811.7,831.8 1812.8,831.6 1813.9,832.9 1815.0,833.4 1816.1,832.5 1817.2,833.2 1818.3,833.1 1819.4,834.0 1820.5,833.9 1821.6,834.0 1822.7,834.1 1823.8,834.5 1824.9,834.3 1826.0,835.3 1827.1,834.9 1828.2,835.7 1829.3,835.8 1830.4,836.5 1831.5,836.2 1832.6,836.9 1833.7,836.3 1834.8,837.3 1835.9,837.1 1837.0,837.6 1838.1,837.8 1839.2,838.4 1840.3,837.4 1841.4,838.7 1842.5,838.1 1843.6,839.6 1844.7,838.4 1845.8,839.1 1846.9,839.0 1848.0,840.7 1849.1,839.6 1850.2,840.5 1851.3,840.4 1852.4,840.1 1853.5,840.9 1854.6,841.6 1855.7,841.4 1856.8,842.1 1857.9,841.7 1859.0,842.0 1860.1,842.0 1861.2,842.6 1862.3,843.4 1863.4,842.9 1864.5,843.0 1865.6,842.8 1866.7,843.0 1867.8,844.1 1868.9,843.1 1870.0,843.4 1871.1,843.9 1872.2,843.9 1873.3,845.1 1874.4,843.3 1875.5,844.6 1876.6,844.9 1877.7,844.2 1878.8,844.5 1879.9,845.1 1881.0,845.7 1882.1,844.7 1883.2,844.5 1884.3,845.8 1885.4,846.1 1886.5,845.4 1887.6,844.6 1888.7,846.4 1889.8,845.7 1890.9,846.4 1892.0,846.0 1893.1,845.9 1894.2,845.9 1895.3,846.8 1896.4,846.9 1897.5,845.3 1898.6,845.9 1899.7,847.1 1900.8,846.1 1901.9,845.7 1903.0,846.2 1904.1,846.1 1905.2,846.0 1906.3,845.7 1907.4,845.7 1908.5,845.5 1909.6,845.7 1910.7,845.0 1911.8,845.1 1912.9,845.0 1914.0,845.5 1915.1,844.9 1916.2,844.5 1917.3,844.6 1918.4,844.4 1919.5,844.5 1920.6,844.1 1921.7,844.4 1922.8,844.0 1923.9,843.1 1925.0,842.7 1926.1,843.1 1927.2,842.6 1928.3,842.1 1929.4,841.2 1930.5,840.8 1931.6,841.4 1932.7,841.3 1933.8,841.0 1934.9,839.8 1936.0,840.5 1937.1,839.4 1938.2,839.5 1939.3,839.1 1940.4,838.2 1941.5,837.9 1942.6,836.8 1943.7,836.8 1944.8,836.0 1945.9,836.6 1947.0,835.9 1948.1,835.8 1949.2,835.1 1950.3,834.2 1951.4,834.1 1952.5,833.3 1953.6,833.3 1954.7,832.6 1955.8,831.6 1956.9,831.5 1958.0,831.1 1959.1,830.4 1960.2,830.4 1961.3,830.3 1962.4,828.9 1963.5,828.3 1964.6,827.0 1965.7,827.4 1966.8,826.7 1967.9,825.4 1969.0,826.0 1970.1,825.5 1971.2,824.4 1972.3,824.0 1973.4,823.2 1974.5,823.4 1975.6,821.7 1976.7,821.7 1977.8,822.1 1978.9,820.7 1980.0,820.2 1981.1,819.4 1982.2,818.3 1983.3,818.2 1984.4,817.7 1985.5,816.4 1986.6,816.4 1987.7,816.2 1988.8,815.4 1989.9,813.5 1991.0,813.1 1992.1,812.2 1993.2,812.7 1994.3,811.7 1995.4,811.0 1996.5,809.6 1997.6,808.7 1998.7,808.5 1999.8,807.7 2000.9,806.5 2002.0,806.1 2003.1,805.5 2004.2,804.5 2005.3,803.0 2006.4,801.7 2007.5,801.6 2008.6,800.8 2009.7,799.7 2010.8,798.6 2011.9,797.4 2013.0,796.9 2014.1,795.4 2015.2,794.3 2016.3,792.5 2017.4,791.3 2018.5,790.2 2019.6,788.3 2020.7,786.6 2021.8,785.5 2022.9,784.6 2024.0,782.6 2025.1,781.6 2026.2,779.2 2027.3,777.5 2028.4,775.4 2029.5,774.1 2030.6,773.2 2031.7,771.0 2032.8,769.4 2033.9,767.6 2035.0,765.4 2036.1,763.4 2037.2,761.7 2038.3,760.0 2039.4,758.0 2040.5,756.0 2041.6,753.8 2042.7,751.4 2043.8,749.5 2044.9,747.1 2046.0,745.8 2047.1,742.2 2048.2,740.8 2049.3,739.8 2050.4,736.3 2051.5,733.6 2052.6,731.8 2053.7,730.1 2054.8,727.2 2055.9,725.2 2057.0,722.7 2058.1,720.2 2059.2,719.5 2060.3,715.8 2061.4,713.1 2062.5,710.7 2063.6,708.7 2064.7,706.1 2065.8,703.6 2066.9,700.5 2068.0,696.9 2069.1,694.7 2070.2,691.1 2071.3,687.8 2072.4,683.9 2073.5,680.9 2074.6,677.4 2075.7,674.3 2076.8,670.2 2077.9,667.5 2079.0,664.2 2080.1,660.3 2081.2,657.2 2082.3,653.7 2083.4,651.1 2084.5,646.1 2085.6,643.7 2086.7,639.7 2087.8,636.9 2088.9,634.0 2090.0,630.0 2091.1,626.9 2092.2,623.1 2093.3,621.0 2094.4,617.2 2095.5,613.9 2096.6,609.4 2097.7,606.1 2098.8,603.7 2099.9,599.8 2101.0,596.4 2102.1,593.4 2103.2,589.4 2104.3,587.1 2105.4,583.6 2106.5,580.7 2107.6,577.0 2108.7,574.4 2109.8,570.8 2110.9,568.5 2112.0,565.5 2113.1,562.4 2114.2,559.3 2115.3,556.4 2116.4,552.0 2117.5,550.9 2118.6,547.7 2119.7,545.2 2120.8,542.5 2121.9,539.6 2123.0,537.6 2124.1,535.8 2125.2,533.9 2126.3,530.8 2127.4,528.5 2128.5,527.4 2129.6,524.3 2130.7,523.5 2131.8,520.6 2132.9,518.1 2134.0,516.9 2135.1,515.2 2136.2,511.8 2137.3,511.1 2138.4,508.3 2139.5,507.2 2140.6,504.4 2141.7,502.0 2142.8,501.1 2143.9,499.4 2144.8,498.4" fill="none" stroke="#b8141b" stroke-width="3.2" stroke-linejoin="round" stroke-linecap="butt"/>
<path d="M1697.3,662.0 1698.4,661.7 1699.5,661.5 1700.6,661.4 1701.7,661.6 1702.8,661.5 1703.9,661.7 1705.0,661.0 1706.1,662.0 1707.2,662.0 1708.3,663.0 1709.4,662.4 1710.5,662.0 1711.6,662.5 1712.7,661.9 1713.8,662.2 1714.9,661.8 1716.0,663.0 1717.1,662.8 1718.2,662.2 1719.3,662.6 1720.4,663.0 1721.5,662.9 1722.6,662.9 1723.7,662.5 1724.8,662.7 1725.9,663.0 1727.0,663.3 1728.1,662.7 1729.2,662.7 1730.3,663.5 1731.4,662.9 1732.5,663.6 1733.6,663.4 1734.7,663.7 1735.8,664.0 1736.9,663.7 1738.0,663.8 1739.1,663.3 1740.2,663.4 1741.3,664.0 1742.4,664.4 1743.5,664.4 1744.6,664.8 1745.7,664.2 1746.8,664.2 1747.9,664.6 1749.0,664.3 1750.1,664.4 1751.2,664.2 1752.3,665.0 1753.4,664.3 1754.5,665.0 1755.6,664.4 1756.7,665.4 1757.8,664.8 1758.9,665.5 1760.0,664.8 1761.1,665.3 1762.2,666.0 1763.3,665.4 1764.4,665.8 1765.5,665.7 1766.6,665.2 1767.7,666.2 1768.8,666.4 1769.9,666.0 1771.0,666.7 1772.1,666.4 1773.2,666.4 1774.3,666.9 1775.4,666.8 1776.5,668.0 1777.6,666.8 1778.7,667.8 1779.8,668.0 1780.9,667.2 1782.0,667.5 1783.1,668.5 1784.2,668.3 1785.3,668.8 1786.4,669.3 1787.5,669.0 1788.6,669.1 1789.7,668.8 1790.8,670.1 1791.9,670.1 1793.0,670.9 1794.1,671.2 1795.2,671.0 1796.3,672.5 1797.4,672.6 1798.5,672.9 1799.6,672.6 1800.7,673.3 1801.8,673.7 1802.9,674.1 1804.0,674.3 1805.1,675.3 1806.2,675.6 1807.3,676.1 1808.4,676.2 1809.5,677.3 1810.6,677.3 1811.7,676.8 1812.8,678.0 1813.9,678.7 1815.0,679.6 1816.1,679.7 1817.2,680.3 1818.3,680.6 1819.4,681.6 1820.5,681.8 1821.6,682.3 1822.7,682.7 1823.8,683.7 1824.9,683.8 1826.0,683.9 1827.1,685.2 1828.2,685.2 1829.3,686.0 1830.4,686.4 1831.5,687.1 1832.6,687.4 1833.7,687.3 1834.8,687.9 1835.9,687.9 1837.0,689.3 1838.1,689.3 1839.2,690.1 1840.3,689.9 1841.4,689.7 1842.5,691.3 1843.6,691.2 1844.7,691.5 1845.8,691.8 1846.9,692.3 1848.0,692.6 1849.1,692.1 1850.2,693.2 1851.3,692.8 1852.4,693.0 1853.5,693.9 1854.6,693.7 1855.7,693.3 1856.8,692.9 1857.9,693.6 1859.0,693.8 1860.1,693.7 1861.2,693.3 1862.3,693.5 1863.4,693.4 1864.5,694.0 1865.6,694.2 1866.7,694.3 1867.8,693.7 1868.9,694.1 1870.0,694.2 1871.1,693.8 1872.2,693.8 1873.3,694.3 1874.4,693.4 1875.5,693.2 1876.6,692.3 1877.7,692.0 1878.8,690.9 1879.9,690.9 1881.0,690.8 1882.1,690.5 1883.2,689.6 1884.3,688.8 1885.4,687.8 1886.5,686.7 1887.6,685.9 1888.7,685.1 1889.8,683.5 1890.9,682.8 1892.0,680.9 1893.1,679.3 1894.2,678.3 1895.3,676.8 1896.4,675.5 1897.5,674.9 1898.6,672.9 1899.7,671.3 1900.8,669.9 1901.9,668.2 1903.0,665.9 1904.1,665.0 1905.2,663.2 1906.3,661.7 1907.4,660.8 1908.5,659.1 1909.6,658.2 1910.7,657.4 1911.8,656.7 1912.9,655.4 1914.0,654.7 1915.1,654.4 1916.2,654.0 1917.3,653.5 1918.4,653.5 1919.5,653.1 1920.6,653.5 1921.7,654.2 1922.8,654.7 1923.9,655.4 1925.0,657.0 1926.1,657.3 1927.2,658.5 1928.3,660.8 1929.4,663.1 1930.5,664.2 1931.6,666.3 1932.7,667.5 1933.8,669.2 1934.9,670.8 1936.0,672.8 1937.1,675.2 1938.2,675.8 1939.3,678.4 1940.4,679.1 1941.5,680.9 1942.6,682.8 1943.7,684.1 1944.8,685.3 1945.9,685.9 1947.0,687.8 1948.1,688.5 1949.2,691.0 1950.3,691.1 1951.4,692.4 1952.5,693.0 1953.6,694.4 1954.7,695.3 1955.8,697.2 1956.9,698.0 1958.0,699.5 1959.1,700.3 1960.2,701.6 1961.3,703.5 1962.4,704.0 1963.5,705.0 1964.6,707.1 1965.7,707.8 1966.8,709.4 1967.9,711.1 1969.0,711.8 1970.1,713.6 1971.2,714.3 1972.3,716.3 1973.4,717.5 1974.5,718.0 1975.6,719.3 1976.7,720.3 1977.8,721.8 1978.9,723.4 1980.0,723.6 1981.1,725.5 1982.2,725.8 1983.3,727.0 1984.4,727.6 1985.5,729.8 1986.6,729.9 1987.7,730.9 1988.8,731.4 1989.9,732.7 1991.0,732.1 1992.1,733.1 1993.2,733.8 1994.3,732.8 1995.4,732.7 1996.5,732.6 1997.6,731.7 1998.7,731.5 1999.8,731.3 2000.9,730.5 2002.0,730.0 2003.1,729.2 2004.2,728.8 2005.3,728.1 2006.4,727.7 2007.5,726.6 2008.6,725.2 2009.7,723.3 2010.8,723.2 2011.9,722.0 2013.0,720.2 2014.1,718.5 2015.2,717.5 2016.3,717.0 2017.4,715.1 2018.5,714.1 2019.6,713.1 2020.7,712.3 2021.8,710.6 2022.9,709.3 2024.0,707.9 2025.1,707.4 2026.2,705.9 2027.3,704.2 2028.4,702.4 2029.5,701.2 2030.6,700.3 2031.7,698.5 2032.8,697.6 2033.9,696.0 2035.0,694.5 2036.1,693.2 2037.2,691.6 2038.3,689.6 2039.4,688.3 2040.5,687.6 2041.6,684.8 2042.7,683.5 2043.8,682.4 2044.9,680.3 2046.0,678.5 2047.1,676.6 2048.2,675.6 2049.3,674.0 2050.4,672.4 2051.5,670.2 2052.6,668.8 2053.7,666.4 2054.8,665.0 2055.9,662.9 2057.0,661.4 2058.1,659.8 2059.2,658.1 2060.3,655.5 2061.4,654.3 2062.5,651.8 2063.6,649.6 2064.7,647.8 2065.8,645.3 2066.9,643.6 2068.0,641.6 2069.1,639.1 2070.2,637.1 2071.3,634.4 2072.4,632.1 2073.5,629.0 2074.6,627.0 2075.7,624.0 2076.8,621.4 2077.9,618.7 2079.0,615.9 2080.1,612.3 2081.2,609.3 2082.3,606.5 2083.4,603.6 2084.5,600.1 2085.6,596.6 2086.7,592.9 2087.8,588.6 2088.9,584.3 2090.0,579.7 2091.1,575.4 2092.2,571.3 2093.3,567.2 2094.4,562.9 2095.5,558.7 2096.6,554.5 2097.7,550.8 2098.8,546.7 2099.9,542.8 2101.0,538.9 2102.1,534.7 2103.2,530.6 2104.3,527.2 2105.4,523.3 2106.5,519.1 2107.6,515.1 2108.7,512.0 2109.8,506.9 2110.9,502.9 2112.0,498.9 2113.1,494.3 2114.2,490.6 2115.3,487.1 2116.4,482.8 2117.5,478.7 2118.6,474.8 2119.7,470.7 2120.8,467.2 2121.9,462.9 2123.0,459.0 2124.1,455.5 2125.2,452.1 2126.3,448.3 2127.4,444.9 2128.5,440.5 2129.6,438.3 2130.7,435.5 2131.8,431.9 2132.9,428.2 2134.0,424.9 2135.1,422.3 2136.2,418.9 2137.3,416.5 2138.4,413.2 2139.5,410.9 2140.6,408.3 2141.7,404.5 2142.8,402.7 2143.9,399.8 2144.8,397.5" fill="none" stroke="#e0bd35" stroke-width="3.2" stroke-linejoin="round" stroke-linecap="butt"/>
<path d="M1697.0,514.3 1698.1,514.4 1699.2,514.8 1700.3,513.6 1701.4,514.6 1702.5,514.9 1703.6,514.2 1704.7,514.1 1705.8,513.7 1706.9,513.1 1708.0,513.8 1709.1,513.7 1710.2,513.8 1711.3,514.6 1712.4,513.7 1713.5,513.6 1714.6,514.1 1715.7,512.8 1716.8,512.9 1717.9,513.2 1719.0,513.1 1720.1,513.7 1721.2,513.3 1722.3,514.2 1723.4,514.1 1724.5,513.7 1725.6,513.2 1726.7,513.7 1727.8,513.8 1728.9,512.9 1730.0,513.6 1731.1,513.7 1732.2,513.5 1733.3,514.1 1734.4,513.9 1735.5,513.0 1736.6,513.5 1737.7,513.0 1738.8,513.7 1739.9,513.0 1741.0,513.9 1742.1,513.7 1743.2,514.0 1744.3,513.5 1745.4,513.0 1746.5,514.5 1747.6,513.6 1748.7,514.4 1749.8,514.0 1750.9,514.2 1752.0,514.7 1753.1,514.1 1754.2,514.6 1755.3,513.4 1756.4,514.5 1757.5,514.0 1758.6,514.0 1759.7,514.1 1760.8,514.3 1761.9,514.8 1763.0,513.2 1764.1,514.0 1765.2,513.6 1766.3,514.4 1767.4,513.6 1768.5,514.0 1769.6,513.5 1770.7,513.9 1771.8,514.0 1772.9,513.3 1774.0,513.4 1775.1,512.7 1776.2,513.4 1777.3,513.6 1778.4,512.9 1779.5,513.6 1780.6,512.1 1781.7,512.2 1782.8,512.4 1783.9,512.8 1785.0,513.0 1786.1,513.0 1787.2,513.0 1788.3,513.4 1789.4,512.8 1790.5,512.5 1791.6,512.5 1792.7,514.1 1793.8,512.1 1794.9,513.1 1796.0,513.9 1797.1,513.5 1798.2,512.9 1799.3,513.3 1800.4,513.7 1801.5,513.9 1802.6,513.0 1803.7,513.9 1804.8,513.8 1805.9,514.3 1807.0,514.6 1808.1,514.1 1809.2,513.8 1810.3,514.9 1811.4,515.8 1812.5,515.6 1813.6,515.7 1814.7,517.0 1815.8,515.8 1816.9,517.0 1818.0,516.6 1819.1,517.3 1820.2,517.7 1821.3,518.8 1822.4,518.2 1823.5,519.0 1824.6,519.1 1825.7,520.6 1826.8,520.8 1827.9,521.8 1829.0,521.8 1830.1,522.7 1831.2,524.0 1832.3,524.0 1833.4,524.9 1834.5,525.4 1835.6,525.6 1836.7,525.5 1837.8,527.2 1838.9,527.4 1840.0,528.3 1841.1,527.4 1842.2,528.1 1843.3,528.4 1844.4,529.5 1845.5,530.8 1846.6,531.1 1847.7,531.3 1848.8,531.8 1849.9,532.5 1851.0,532.4 1852.1,533.1 1853.2,533.4 1854.3,532.7 1855.4,533.9 1856.5,535.0 1857.6,534.6 1858.7,535.1 1859.8,535.2 1860.9,535.6 1862.0,536.6 1863.1,536.2 1864.2,536.0 1865.3,535.2 1866.4,536.4 1867.5,535.8 1868.6,535.8 1869.7,536.9 1870.8,536.7 1871.9,535.3 1873.0,536.3 1874.1,535.9 1875.2,535.0 1876.3,535.4 1877.4,534.0 1878.5,533.6 1879.6,532.9 1880.7,532.2 1881.8,532.3 1882.9,530.4 1884.0,529.5 1885.1,528.5 1886.2,528.0 1887.3,526.6 1888.4,526.1 1889.5,524.2 1890.6,522.6 1891.7,521.5 1892.8,520.2 1893.9,518.2 1895.0,517.1 1896.1,516.1 1897.2,513.3 1898.3,511.8 1899.4,510.7 1900.5,507.9 1901.6,505.7 1902.7,503.2 1903.8,501.5 1904.9,499.1 1906.0,496.4 1907.1,494.3 1908.2,492.9 1909.3,491.1 1910.4,488.9 1911.5,488.8 1912.6,488.2 1913.7,488.0 1914.8,487.1 1915.9,486.5 1917.0,486.3 1918.1,485.5 1919.2,486.2 1920.3,486.1 1921.4,487.3 1922.5,487.6 1923.6,489.1 1924.7,490.2 1925.8,491.5 1926.9,493.6 1928.0,494.7 1929.1,496.9 1930.2,498.1 1931.3,500.6 1932.4,501.7 1933.5,503.9 1934.6,505.4 1935.7,506.9 1936.8,507.6 1937.9,508.2 1939.0,509.3 1940.1,509.6 1941.2,510.3 1942.3,510.9 1943.4,511.0 1944.5,511.4 1945.6,512.1 1946.7,512.1 1947.8,512.8 1948.9,513.4 1950.0,513.5 1951.1,513.3 1952.2,513.2 1953.3,514.2 1954.4,514.7 1955.5,516.1 1956.6,516.5 1957.7,517.9 1958.8,519.9 1959.9,521.1 1961.0,523.1 1962.1,526.0 1963.2,527.9 1964.3,529.5 1965.4,531.4 1966.5,532.8 1967.6,535.7 1968.7,537.8 1969.8,540.3 1970.9,542.4 1972.0,545.2 1973.1,547.7 1974.2,550.5 1975.3,553.6 1976.4,555.6 1977.5,557.0 1978.6,559.7 1979.7,562.0 1980.8,564.9 1981.9,568.1 1983.0,570.5 1984.1,572.5 1985.2,575.1 1986.3,576.7 1987.4,578.2 1988.5,579.7 1989.6,581.1 1990.7,583.2 1991.8,583.0 1992.9,585.1 1994.0,586.1 1995.1,586.3 1996.2,587.1 1997.3,587.5 1998.4,588.3 1999.5,589.1 2000.6,589.1 2001.7,589.6 2002.8,589.7 2003.9,589.1 2005.0,588.9 2006.1,588.3 2007.2,588.1 2008.3,586.9 2009.4,587.0 2010.5,586.3 2011.6,585.1 2012.7,585.7 2013.8,583.6 2014.9,582.8 2016.0,582.4 2017.1,580.2 2018.2,579.3 2019.3,577.3 2020.4,575.8 2021.5,574.2 2022.6,572.4 2023.7,570.6 2024.8,568.3 2025.9,566.2 2027.0,563.7 2028.1,560.8 2029.2,558.9 2030.3,555.4 2031.4,552.3 2032.5,550.1 2033.6,546.4 2034.7,542.6 2035.8,539.1 2036.9,535.1 2038.0,529.6 2039.1,525.4 2040.2,519.6 2041.3,514.5 2042.4,508.0 2043.5,502.2 2044.6,494.1 2045.7,484.9 2046.8,475.9 2047.9,465.2 2049.0,454.5 2050.1,442.1 2051.2,430.7 2052.3,418.9 2053.4,409.0 2054.5,398.6 2055.6,387.3 2056.7,375.8 2057.8,361.4 2058.9,348.0 2060.0,333.4 2061.1,320.5 2062.2,308.9 2063.3,298.3 2064.4,287.4 2065.5,276.9 2066.6,263.7 2067.7,249.6 2068.8,242.2 2069.9,236.1 2071.0,231.5 2072.1,231.0 2073.2,234.0 2074.3,239.4 2075.4,244.5 2076.5,249.9 2077.6,255.4 2078.7,263.7 2079.8,272.2 2080.9,281.6 2082.0,292.2 2083.1,302.7 2084.2,315.0 2085.3,326.4 2086.4,336.7 2087.5,346.5 2088.6,357.8 2089.7,366.3 2090.8,376.4 2091.9,385.6 2093.0,392.8 2094.1,401.2 2095.2,408.6 2096.3,416.5 2097.4,423.6 2098.5,430.9 2099.6,436.2 2100.7,440.8 2101.8,445.2 2102.9,447.9 2104.0,450.8 2105.1,454.8 2106.2,456.1 2107.3,459.0 2108.4,461.8 2109.5,463.7 2110.6,465.2 2111.7,468.5 2112.8,469.4 2113.9,471.1 2115.0,472.7 2116.1,473.9 2117.2,475.2 2118.3,477.1 2119.4,479.5 2120.5,480.2 2121.6,481.9 2122.7,482.5 2123.8,484.8 2124.9,485.7 2126.0,487.9 2127.1,488.4 2128.2,489.0 2129.3,489.0 2130.4,488.6 2131.5,487.8 2132.6,488.2 2133.7,486.7 2134.8,486.0 2135.9,485.6 2137.0,484.6 2138.1,484.1 2139.2,483.4 2140.3,481.6 2141.4,480.0 2142.5,478.1 2143.6,476.5 2144.5,473.6" fill="none" stroke="#4daf78" stroke-width="3.2" stroke-linejoin="round" stroke-linecap="butt"/>
<path d="M1697.0,373.0 1698.1,371.1 1699.2,370.6 1700.3,372.0 1701.4,371.4 1702.5,372.5 1703.6,373.1 1704.7,368.5 1705.8,371.3 1706.9,373.9 1708.0,372.5 1709.1,373.2 1710.2,371.5 1711.3,369.5 1712.4,369.9 1713.5,372.2 1714.6,372.6 1715.7,370.4 1716.8,371.0 1717.9,371.7 1719.0,369.0 1720.1,370.9 1721.2,373.4 1722.3,374.2 1723.4,371.2 1724.5,373.7 1725.6,370.6 1726.7,370.3 1727.8,368.5 1728.9,372.8 1730.0,371.2 1731.1,374.9 1732.2,372.4 1733.3,372.4 1734.4,369.9 1735.5,374.4 1736.6,372.1 1737.7,372.4 1738.8,369.8 1739.9,374.0 1741.0,374.2 1742.1,372.2 1743.2,373.2 1744.3,373.7 1745.4,374.5 1746.5,373.4 1747.6,375.6 1748.7,373.1 1749.8,372.8 1750.9,373.0 1752.0,370.4 1753.1,372.7 1754.2,375.2 1755.3,374.3 1756.4,373.0 1757.5,374.6 1758.6,371.7 1759.7,374.0 1760.8,375.2 1761.9,375.6 1763.0,373.8 1764.1,376.1 1765.2,377.5 1766.3,374.7 1767.4,376.4 1768.5,373.6 1769.6,373.2 1770.7,376.7 1771.8,376.2 1772.9,376.6 1774.0,375.8 1775.1,376.3 1776.2,378.0 1777.3,379.4 1778.4,377.1 1779.5,375.4 1780.6,379.5 1781.7,378.8 1782.8,379.2 1783.9,378.7 1785.0,381.8 1786.1,379.1 1787.2,380.0 1788.3,377.2 1789.4,379.2 1790.5,379.4 1791.6,380.6 1792.7,381.4 1793.8,380.3 1794.9,383.9 1796.0,380.7 1797.1,381.8 1798.2,383.1 1799.3,381.5 1800.4,384.2 1801.5,384.7 1802.6,383.8 1803.7,387.0 1804.8,385.0 1805.9,385.6 1807.0,384.3 1808.1,383.6 1809.2,385.3 1810.3,385.9 1811.4,386.0 1812.5,387.9 1813.6,384.1 1814.7,385.9 1815.8,385.3 1816.9,389.7 1818.0,387.5 1819.1,387.8 1820.2,387.3 1821.3,390.2 1822.4,388.8 1823.5,389.9 1824.6,387.3 1825.7,391.8 1826.8,391.1 1827.9,391.7 1829.0,393.0 1830.1,391.5 1831.2,392.1 1832.3,393.8 1833.4,394.1 1834.5,393.9 1835.6,395.0 1836.7,395.0 1837.8,397.2 1838.9,398.2 1840.0,397.6 1841.1,400.5 1842.2,396.5 1843.3,398.6 1844.4,401.5 1845.5,399.1 1846.6,398.0 1847.7,402.2 1848.8,401.5 1849.9,399.5 1851.0,402.4 1852.1,400.4 1853.2,400.2 1854.3,402.1 1855.4,402.0 1856.5,401.4 1857.6,402.7 1858.7,402.2 1859.8,403.8 1860.9,404.0 1862.0,405.3 1863.1,404.1 1864.2,403.3 1865.3,403.6 1866.4,405.4 1867.5,408.0 1868.6,407.5 1869.7,405.9 1870.8,408.2 1871.9,405.8 1873.0,409.0 1874.1,407.5 1875.2,409.4 1876.3,409.5 1877.4,408.7 1878.5,409.8 1879.6,408.4 1880.7,410.0 1881.8,411.9 1882.9,416.2 1884.0,412.1 1885.1,411.8 1886.2,410.9 1887.3,414.1 1888.4,411.1 1889.5,412.7 1890.6,414.7 1891.7,413.0 1892.8,416.9 1893.9,416.5 1895.0,414.4 1896.1,414.3 1897.2,413.0 1898.3,412.4 1899.4,414.2 1900.5,413.8 1901.6,412.8 1902.7,412.1 1903.8,410.4 1904.9,411.1 1906.0,408.1 1907.1,409.5 1908.2,410.8 1909.3,410.0 1910.4,407.1 1911.5,406.7 1912.6,408.3 1913.7,408.2 1914.8,403.2 1915.9,404.0 1917.0,404.2 1918.1,404.8 1919.2,401.4 1920.3,402.6 1921.4,400.7 1922.5,403.4 1923.6,400.1 1924.7,398.6 1925.8,397.6 1926.9,398.7 1928.0,397.5 1929.1,394.5 1930.2,395.6 1931.3,393.1 1932.4,393.3 1933.5,392.0 1934.6,391.4 1935.7,391.7 1936.8,390.9 1937.9,392.5 1939.0,392.6 1940.1,391.1 1941.2,390.0 1942.3,392.8 1943.4,389.5 1944.5,390.1 1945.6,394.2 1946.7,394.7 1947.8,395.9 1948.9,395.1 1950.0,394.4 1951.1,396.1 1952.2,398.2 1953.3,397.1 1954.4,397.9 1955.5,397.7 1956.6,398.7 1957.7,402.1 1958.8,402.4 1959.9,401.1 1961.0,402.0 1962.1,403.4 1963.2,405.6 1964.3,404.1 1965.4,406.0 1966.5,404.1 1967.6,406.0 1968.7,408.9 1969.8,410.3 1970.9,408.3 1972.0,409.5 1973.1,412.2 1974.2,411.2 1975.3,411.4 1976.4,413.0 1977.5,412.7 1978.6,413.9 1979.7,413.4 1980.8,411.5 1981.9,412.0 1983.0,412.0 1984.1,410.1 1985.2,410.5 1986.3,412.9 1987.4,409.4 1988.5,412.7 1989.6,411.7 1990.7,411.1 1991.8,411.9 1992.9,411.9 1994.0,413.0 1995.1,411.1 1996.2,411.5 1997.3,411.6 1998.4,414.6 1999.5,413.5 2000.6,411.2 2001.7,412.0 2002.8,411.4 2003.9,412.0 2005.0,411.7 2006.1,413.7 2007.2,407.4 2008.3,410.1 2009.4,408.2 2010.5,405.5 2011.6,405.0 2012.7,403.4 2013.8,402.9 2014.9,403.1 2016.0,398.7 2017.1,401.3 2018.2,398.1 2019.3,399.4 2020.4,396.8 2021.5,396.6 2022.6,394.4 2023.7,393.6 2024.8,390.6 2025.9,387.7 2027.0,387.7 2028.1,385.3 2029.2,384.1 2030.3,375.5 2031.4,374.2 2032.5,372.2 2033.6,365.4 2034.7,363.0 2035.8,362.5 2036.9,358.2 2038.0,351.8 2039.1,351.4 2040.2,347.5 2041.3,343.2 2042.4,338.5 2043.5,333.6 2044.6,326.8 2045.7,321.5 2046.8,316.9 2047.9,309.9 2049.0,305.9 2050.1,297.0 2051.2,288.6 2052.3,285.2 2053.4,278.9 2054.5,270.0 2055.6,259.2 2056.7,247.4 2057.8,239.9 2058.9,226.1 2060.0,216.8 2061.1,204.5 2062.2,192.4 2063.3,185.0 2064.4,169.0 2065.5,160.2 2066.6,150.8 2067.7,137.9 2068.8,127.5 2069.9,115.6 2071.0,106.0 2072.1,100.7 2073.2,89.6 2074.3,83.2 2075.4,77.9 2076.5,75.6 2077.6,75.2 2078.7,73.6 2079.8,72.7 2080.9,73.2 2082.0,77.9 2083.1,78.6 2084.2,85.4 2085.3,94.0 2086.4,104.0 2087.5,116.8 2088.6,126.9 2089.7,136.2 2090.8,148.7 2091.9,156.3 2093.0,165.6 2094.1,172.5 2095.2,181.6 2096.3,189.3 2097.4,197.8 2098.5,206.8 2099.6,210.2 2100.7,216.4 2101.8,220.5 2102.9,220.5 2104.0,227.4 2105.1,232.8 2106.2,236.4 2107.3,236.6 2108.4,239.6 2109.5,240.3 2110.6,238.4 2111.7,240.8 2112.8,240.8 2113.9,238.2 2115.0,235.2 2116.1,236.8 2117.2,232.5 2118.3,229.6 2119.4,227.3 2120.5,223.1 2121.6,221.8 2122.7,217.9 2123.8,215.1 2124.9,210.9 2126.0,205.3 2127.1,202.0 2128.2,199.1 2129.3,193.2 2130.4,193.3 2131.5,185.3 2132.6,181.4 2133.7,180.7 2134.8,177.5 2135.9,173.8 2137.0,171.1 2138.1,169.5 2139.2,167.8 2140.3,165.6 2141.4,162.4 2142.5,161.6 2143.6,160.6 2144.5,159.5" fill="none" stroke="#919191" stroke-width="3.2" stroke-linejoin="round" stroke-linecap="butt"/>
<rect x="1696.6" y="17.0" width="448.5" height="897.8" fill="none" stroke="#000" stroke-width="2.2"/>
<text transform="translate(1667.1,26.8) scale(1,1.05)" text-anchor="end" class="tk">0.6</text>
<text transform="translate(1667.1,164.9) scale(1,1.05)" text-anchor="end" class="tk">0.5</text>
<text transform="translate(1667.1,303.0) scale(1,1.05)" text-anchor="end" class="tk">0.4</text>
<text transform="translate(1667.1,441.2) scale(1,1.05)" text-anchor="end" class="tk">0.3</text>
<text transform="translate(1667.1,579.3) scale(1,1.05)" text-anchor="end" class="tk">0.2</text>
<text transform="translate(1667.1,717.4) scale(1,1.05)" text-anchor="end" class="tk">0.1</text>
<text transform="translate(1667.1,855.5) scale(1,1.05)" text-anchor="end" class="tk">0.0</text>
<text transform="translate(1697.1,960.5) scale(1,1.05)" text-anchor="middle" class="tk">1.5</text>
<text transform="translate(1809.2,960.5) scale(1,1.05)" text-anchor="middle" class="tk">2.0</text>
<text transform="translate(1921.3,960.5) scale(1,1.05)" text-anchor="middle" class="tk">2.5</text>
<text transform="translate(2033.5,960.5) scale(1,1.05)" text-anchor="middle" class="tk">3.0</text>
<text transform="translate(2145.6,960.5) scale(1,1.05)" text-anchor="middle" class="tk">3.5</text>
<path d="M1679.6,17.0H1696.6M1688.1,86.1H1696.6M1679.6,155.1H1696.6M1688.1,224.2H1696.6M1679.6,293.2H1696.6M1688.1,362.3H1696.6M1679.6,431.4H1696.6M1688.1,500.4H1696.6M1679.6,569.5H1696.6M1688.1,638.6H1696.6M1679.6,707.6H1696.6M1688.1,776.7H1696.6M1679.6,845.7H1696.6M1688.1,914.8H1696.6M1752.7,914.8V906.3M1752.7,17.0V25.5M1808.7,914.8V897.8M1808.7,17.0V34.0M1864.8,914.8V906.3M1864.8,17.0V25.5M1920.8,914.8V897.8M1920.8,17.0V34.0M1976.9,914.8V906.3M1976.9,17.0V25.5M2033.0,914.8V897.8M2033.0,17.0V34.0M2089.0,914.8V906.3M2089.0,17.0V25.5" stroke="#000" stroke-width="2.2" fill="none"/>
<text transform="translate(1920.8,1017) scale(1,1.05)" text-anchor="middle" class="tk" style="font-size:33.4px">Sample bias (V)</text>
<text x="1600.5" y="57.3" class="pl">f</text>
<path d="M1737.6,91.6H1777.1" stroke="#919191" stroke-width="3.4"/>
<text x="1785.2" y="102.8" class="tk">3V3O<tspan dy="8.7" font-size="21px">2</tspan><tspan dy="-8.7"> vacancy</tspan></text>
<path d="M1737.6,139.4H1777.1" stroke="#4daf78" stroke-width="3.4"/>
<text x="1785.2" y="150.4" class="tk">Hexamer V2</text>
<path d="M1737.6,180.1H1777.1" stroke="#e0bd35" stroke-width="3.4"/>
<text x="1785.2" y="190.9" class="tk">Trimer V1</text>
<path d="M1737.6,220.6H1777.1" stroke="#b8141b" stroke-width="3.4"/>
<text x="1785.2" y="232.0" class="tk">Bare surface</text>
</svg></body></html>
